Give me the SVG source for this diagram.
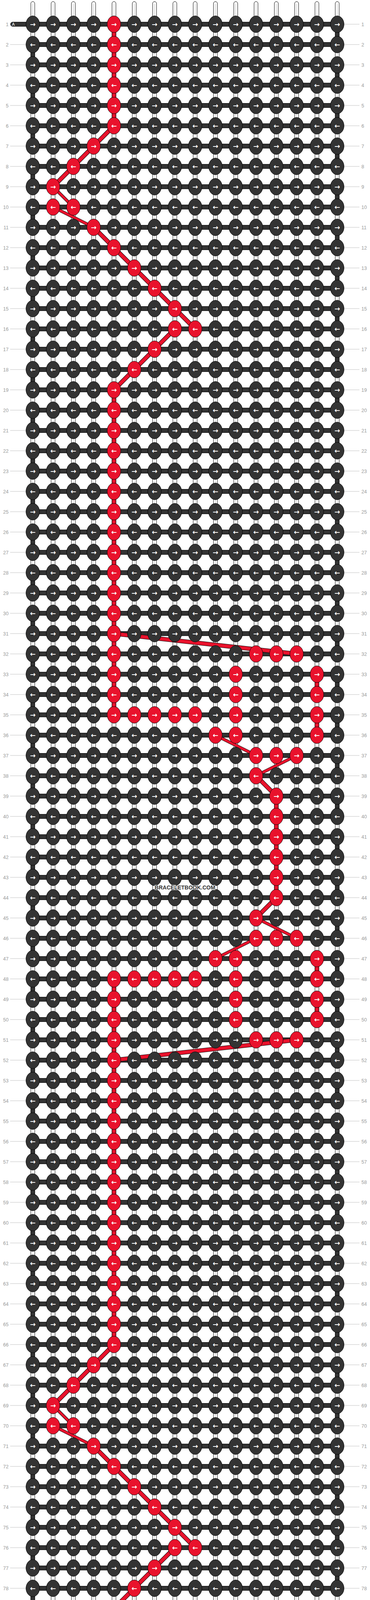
<svg xmlns="http://www.w3.org/2000/svg" width="948" height="4492" viewBox="0 0 948 4492">
<style>
.w{fill:#fff;stroke:#000;stroke-width:1}
.wl{stroke:#c4c4c4;stroke-width:1.2;fill:none}
.b{fill:#333;stroke:#000;stroke-width:1}
.rv{fill:#e9122c;stroke:#000;stroke-width:1}
.lo{fill:none;stroke:#000;stroke-width:11;stroke-linejoin:round}
.li{fill:none;stroke:#e9122c;stroke-width:9;stroke-linejoin:round}
.to{fill:none;stroke:#000;stroke-width:8;stroke-linejoin:round}
.ti{fill:none;stroke:#e9122c;stroke-width:6;stroke-linejoin:round}
.n text{fill:#fff;font:bold 17px "DejaVu Sans",sans-serif;text-anchor:middle}
.n .ll{fill:#9a9a9a;font:12.5px "Liberation Sans",Arial,sans-serif;text-anchor:end}
.n .rl{fill:#9a9a9a;font:12.5px "Liberation Sans",Arial,sans-serif;text-anchor:start}
.ld{stroke:#c0c0c0;stroke-width:1;fill:none}
.at{fill:#fff;font:11px "Liberation Sans",Arial,sans-serif}
.wm{font:bold 14px "Liberation Sans",Arial,sans-serif;fill:#333;stroke:#fff;stroke-width:2.5;paint-order:stroke;text-anchor:middle}
</style>
<defs>
<ellipse id="K" cy="-5.5" rx="17.4" ry="21.3" fill="#333" stroke="#000" stroke-width="1"/>
<ellipse id="R" cy="-5.5" rx="17.4" ry="21.3" fill="#e9122c" stroke="#000" stroke-width="1"/>
<path id="th" d="M292 322L240 374L188 426L136 478M240 582L292 634L344 686L396 738L448 790L500 842M448 842L396 894L344 946L292 998M292 3442L240 3494L188 3546L136 3598M240 3702L292 3754L344 3806L396 3858L448 3910L500 3962M448 3962L396 4014L344 4066L292 4118M292 1622L760 1674M656 1986L708 2038M708 2298L656 2350M760 2662L292 2714"/>
<path id="tn" d="M136 478L188 530M136 530L240 582M136 3598L188 3650M136 3650L240 3702M552 1882L656 1934M760 1934L656 1986M656 2350L760 2402M656 2402L552 2454"/>
</defs>
<rect width="948" height="4492" fill="#fff"/>
<g id="connectors">
<g id="warps" class="w">
<rect x="79" y="4" width="10" height="4482" rx="5"/><rect x="131" y="4" width="10" height="4482" rx="5"/><rect x="183" y="4" width="10" height="4482" rx="5"/><rect x="235" y="4" width="10" height="4482" rx="5"/><rect x="287" y="4" width="10" height="4482" rx="5"/><rect x="339" y="4" width="10" height="4482" rx="5"/><rect x="391" y="4" width="10" height="4482" rx="5"/><rect x="443" y="4" width="10" height="4482" rx="5"/><rect x="495" y="4" width="10" height="4482" rx="5"/><rect x="547" y="4" width="10" height="4482" rx="5"/><rect x="599" y="4" width="10" height="4482" rx="5"/><rect x="651" y="4" width="10" height="4482" rx="5"/><rect x="703" y="4" width="10" height="4482" rx="5"/><rect x="755" y="4" width="10" height="4482" rx="5"/><rect x="807" y="4" width="10" height="4482" rx="5"/><rect x="859" y="4" width="10" height="4482" rx="5"/>
</g>
<path class="wl" d="M84 10V4480M136 10V4480M188 10V4480M240 10V4480M292 10V4480M344 10V4480M396 10V4480M448 10V4480M500 10V4480M552 10V4480M604 10V4480M656 10V4480M708 10V4480M760 10V4480M812 10V4480M864 10V4480"/>
<path id="rowbars" class="b" d="M84 56.5h780v11h-780zm0 52h780v11h-780zm0 52h780v11h-780zm0 52h780v11h-780zm0 52h780v11h-780zm0 52h780v11h-780zm0 52h780v11h-780zm0 52h780v11h-780zm0 52h780v11h-780zm0 52h780v11h-780zm0 52h780v11h-780zm0 52h780v11h-780zm0 52h780v11h-780zm0 52h780v11h-780zm0 52h780v11h-780zm0 52h780v11h-780zm0 52h780v11h-780zm0 52h780v11h-780zm0 52h780v11h-780zm0 52h780v11h-780zm0 52h780v11h-780zm0 52h780v11h-780zm0 52h780v11h-780zm0 52h780v11h-780zm0 52h780v11h-780zm0 52h780v11h-780zm0 52h780v11h-780zm0 52h780v11h-780zm0 52h780v11h-780zm0 52h780v11h-780zm0 52h780v11h-780zm0 52h780v11h-780zm0 52h780v11h-780zm0 52h780v11h-780zm0 52h780v11h-780zm0 52h780v11h-780zm0 52h780v11h-780zm0 52h780v11h-780zm0 52h780v11h-780zm0 52h780v11h-780zm0 52h780v11h-780zm0 52h780v11h-780zm0 52h780v11h-780zm0 52h780v11h-780zm0 52h780v11h-780zm0 52h780v11h-780zm0 52h780v11h-780zm0 52h780v11h-780zm0 52h780v11h-780zm0 52h780v11h-780zm0 52h780v11h-780zm0 52h780v11h-780zm0 52h780v11h-780zm0 52h780v11h-780zm0 52h780v11h-780zm0 52h780v11h-780zm0 52h780v11h-780zm0 52h780v11h-780zm0 52h780v11h-780zm0 52h780v11h-780zm0 52h780v11h-780zm0 52h780v11h-780zm0 52h780v11h-780zm0 52h780v11h-780zm0 52h780v11h-780zm0 52h780v11h-780zm0 52h780v11h-780zm0 52h780v11h-780zm0 52h780v11h-780zm0 52h780v11h-780zm0 52h780v11h-780zm0 52h780v11h-780zm0 52h780v11h-780zm0 52h780v11h-780zm0 52h780v11h-780zm0 52h780v11h-780zm0 52h780v11h-780zm0 52h780v11h-780zm0 52h780v11h-780zm0 52h780v11h-780zm0 52h780v11h-780zm0 52h780v11h-780zm0 52h780v11h-780zm0 52h780v11h-780zm0 52h780v11h-780z"/>
<rect id="startA" class="b" x="27" y="56.5" width="62" height="11" rx="5.5"/>
<rect id="endA" class="b" x="859" y="4424.5" width="62" height="11" rx="5.5"/>
<path id="turns" class="b" d="M859 81h10v14h-10zm0 104h10v14h-10zm0 104h10v14h-10zm0 104h10v14h-10zm0 104h10v14h-10zm0 104h10v14h-10zm0 104h10v14h-10zm0 104h10v14h-10zm0 104h10v14h-10zm0 104h10v14h-10zm0 104h10v14h-10zm0 104h10v14h-10zm0 104h10v14h-10zm0 104h10v14h-10zm0 104h10v14h-10zm0 104h10v14h-10zm0 104h10v14h-10zm0 104h10v14h-10zm0 104h10v14h-10zm0 104h10v14h-10zm0 104h10v14h-10zm0 104h10v14h-10zm0 104h10v14h-10zm0 104h10v14h-10zm0 104h10v14h-10zm0 104h10v14h-10zm0 104h10v14h-10zm0 104h10v14h-10zm0 104h10v14h-10zm0 104h10v14h-10zm0 104h10v14h-10zm0 104h10v14h-10zm0 104h10v14h-10zm0 104h10v14h-10zm0 104h10v14h-10zm0 104h10v14h-10zm0 104h10v14h-10zm0 104h10v14h-10zm0 104h10v14h-10zm0 104h10v14h-10zm0 104h10v14h-10zm0 104h10v14h-10zM79 133h10v14h-10zm0 104h10v14h-10zm0 104h10v14h-10zm0 104h10v14h-10zm0 104h10v14h-10zm0 104h10v14h-10zm0 104h10v14h-10zm0 104h10v14h-10zm0 104h10v14h-10zm0 104h10v14h-10zm0 104h10v14h-10zm0 104h10v14h-10zm0 104h10v14h-10zm0 104h10v14h-10zm0 104h10v14h-10zm0 104h10v14h-10zm0 104h10v14h-10zm0 104h10v14h-10zm0 104h10v14h-10zm0 104h10v14h-10zm0 104h10v14h-10zm0 104h10v14h-10zm0 104h10v14h-10zm0 104h10v14h-10zm0 104h10v14h-10zm0 104h10v14h-10zm0 104h10v14h-10zm0 104h10v14h-10zm0 104h10v14h-10zm0 104h10v14h-10zm0 104h10v14h-10zm0 104h10v14h-10zm0 104h10v14h-10zm0 104h10v14h-10zm0 104h10v14h-10zm0 104h10v14h-10zm0 104h10v14h-10zm0 104h10v14h-10zm0 104h10v14h-10zm0 104h10v14h-10zm0 104h10v14h-10z"/>
<path id="redwarp" class="rv" d="M287 81h10v14h-10zm0 52h10v14h-10zm0 52h10v14h-10zm0 52h10v14h-10zm0 52h10v14h-10zM287 1017h10v14h-10zm0 52h10v14h-10zm0 52h10v14h-10zm0 52h10v14h-10zm0 52h10v14h-10zm0 52h10v14h-10zm0 52h10v14h-10zm0 52h10v14h-10zm0 52h10v14h-10zm0 52h10v14h-10zm0 52h10v14h-10zm0 52h10v14h-10zm0 52h10v14h-10zm0 52h10v14h-10zm0 52h10v14h-10zm0 52h10v14h-10zM287 2525h10v14h-10zm0 52h10v14h-10zm0 52h10v14h-10zm0 52h10v14h-10zm0 52h10v14h-10zm0 52h10v14h-10zm0 52h10v14h-10zm0 52h10v14h-10zm0 52h10v14h-10zm0 52h10v14h-10zm0 52h10v14h-10zm0 52h10v14h-10zm0 52h10v14h-10zm0 52h10v14h-10zm0 52h10v14h-10zm0 52h10v14h-10zm0 52h10v14h-10zm0 52h10v14h-10zM287 4137h10v14h-10zm0 52h10v14h-10zm0 52h10v14h-10zm0 52h10v14h-10zm0 52h10v14h-10zm0 52h10v14h-10zM807 1745h10v14h-10zm0 104h10v14h-10zM807 2473h10v14h-10zm0 104h10v14h-10zM703 2057h10v14h-10zm0 52h10v14h-10zm0 52h10v14h-10zm0 52h10v14h-10zm0 52h10v14h-10z"/>
<use href="#th" class="lo"/><use href="#th" class="li"/>
<use href="#tn" class="to"/><use href="#tn" class="ti"/>
</g>
<text class="at" x="30.5" y="66">A</text>
<text class="at" x="910.5" y="4434">A</text>
<g id="knots">
<g id="row1" class="n" transform="translate(0 67.5)"><path class="ld" d="M882-5.5h39"/><text class="ll" x="22" y="-1">1</text><text class="rl" x="926" y="-1">1</text><g id="k1-1"><use href="#K" x="84"/><text x="84">→</text></g><g id="k1-2"><use href="#K" x="136"/><text x="136">→</text></g><g id="k1-3"><use href="#K" x="188"/><text x="188">→</text></g><g id="k1-4"><use href="#K" x="240"/><text x="240">→</text></g><g id="k1-5"><use href="#R" x="292"/><text x="292">→</text></g><g id="k1-6"><use href="#K" x="344"/><text x="344">→</text></g><g id="k1-7"><use href="#K" x="396"/><text x="396">→</text></g><g id="k1-8"><use href="#K" x="448"/><text x="448">→</text></g><g id="k1-9"><use href="#K" x="500"/><text x="500">→</text></g><g id="k1-10"><use href="#K" x="552"/><text x="552">→</text></g><g id="k1-11"><use href="#K" x="604"/><text x="604">→</text></g><g id="k1-12"><use href="#K" x="656"/><text x="656">→</text></g><g id="k1-13"><use href="#K" x="708"/><text x="708">→</text></g><g id="k1-14"><use href="#K" x="760"/><text x="760">→</text></g><g id="k1-15"><use href="#K" x="812"/><text x="812">→</text></g><g id="k1-16"><use href="#K" x="864"/><text x="864">→</text></g></g>
<g id="row2" class="n" transform="translate(0 119.5)"><path class="ld" d="M26-5.5h40M882-5.5h39"/><text class="ll" x="22" y="-1">2</text><text class="rl" x="926" y="-1">2</text><g id="k2-1"><use href="#K" x="84"/><text x="84">←</text></g><g id="k2-2"><use href="#K" x="136"/><text x="136">←</text></g><g id="k2-3"><use href="#K" x="188"/><text x="188">←</text></g><g id="k2-4"><use href="#K" x="240"/><text x="240">←</text></g><g id="k2-5"><use href="#R" x="292"/><text x="292">←</text></g><g id="k2-6"><use href="#K" x="344"/><text x="344">←</text></g><g id="k2-7"><use href="#K" x="396"/><text x="396">←</text></g><g id="k2-8"><use href="#K" x="448"/><text x="448">←</text></g><g id="k2-9"><use href="#K" x="500"/><text x="500">←</text></g><g id="k2-10"><use href="#K" x="552"/><text x="552">←</text></g><g id="k2-11"><use href="#K" x="604"/><text x="604">←</text></g><g id="k2-12"><use href="#K" x="656"/><text x="656">←</text></g><g id="k2-13"><use href="#K" x="708"/><text x="708">←</text></g><g id="k2-14"><use href="#K" x="760"/><text x="760">←</text></g><g id="k2-15"><use href="#K" x="812"/><text x="812">←</text></g><g id="k2-16"><use href="#K" x="864"/><text x="864">←</text></g></g>
<g id="row3" class="n" transform="translate(0 171.5)"><path class="ld" d="M26-5.5h40M882-5.5h39"/><text class="ll" x="22" y="-1">3</text><text class="rl" x="926" y="-1">3</text><g id="k3-1"><use href="#K" x="84"/><text x="84">→</text></g><g id="k3-2"><use href="#K" x="136"/><text x="136">→</text></g><g id="k3-3"><use href="#K" x="188"/><text x="188">→</text></g><g id="k3-4"><use href="#K" x="240"/><text x="240">→</text></g><g id="k3-5"><use href="#R" x="292"/><text x="292">→</text></g><g id="k3-6"><use href="#K" x="344"/><text x="344">→</text></g><g id="k3-7"><use href="#K" x="396"/><text x="396">→</text></g><g id="k3-8"><use href="#K" x="448"/><text x="448">→</text></g><g id="k3-9"><use href="#K" x="500"/><text x="500">→</text></g><g id="k3-10"><use href="#K" x="552"/><text x="552">→</text></g><g id="k3-11"><use href="#K" x="604"/><text x="604">→</text></g><g id="k3-12"><use href="#K" x="656"/><text x="656">→</text></g><g id="k3-13"><use href="#K" x="708"/><text x="708">→</text></g><g id="k3-14"><use href="#K" x="760"/><text x="760">→</text></g><g id="k3-15"><use href="#K" x="812"/><text x="812">→</text></g><g id="k3-16"><use href="#K" x="864"/><text x="864">→</text></g></g>
<g id="row4" class="n" transform="translate(0 223.5)"><path class="ld" d="M26-5.5h40M882-5.5h39"/><text class="ll" x="22" y="-1">4</text><text class="rl" x="926" y="-1">4</text><g id="k4-1"><use href="#K" x="84"/><text x="84">←</text></g><g id="k4-2"><use href="#K" x="136"/><text x="136">←</text></g><g id="k4-3"><use href="#K" x="188"/><text x="188">←</text></g><g id="k4-4"><use href="#K" x="240"/><text x="240">←</text></g><g id="k4-5"><use href="#R" x="292"/><text x="292">←</text></g><g id="k4-6"><use href="#K" x="344"/><text x="344">←</text></g><g id="k4-7"><use href="#K" x="396"/><text x="396">←</text></g><g id="k4-8"><use href="#K" x="448"/><text x="448">←</text></g><g id="k4-9"><use href="#K" x="500"/><text x="500">←</text></g><g id="k4-10"><use href="#K" x="552"/><text x="552">←</text></g><g id="k4-11"><use href="#K" x="604"/><text x="604">←</text></g><g id="k4-12"><use href="#K" x="656"/><text x="656">←</text></g><g id="k4-13"><use href="#K" x="708"/><text x="708">←</text></g><g id="k4-14"><use href="#K" x="760"/><text x="760">←</text></g><g id="k4-15"><use href="#K" x="812"/><text x="812">←</text></g><g id="k4-16"><use href="#K" x="864"/><text x="864">←</text></g></g>
<g id="row5" class="n" transform="translate(0 275.5)"><path class="ld" d="M26-5.5h40M882-5.5h39"/><text class="ll" x="22" y="-1">5</text><text class="rl" x="926" y="-1">5</text><g id="k5-1"><use href="#K" x="84"/><text x="84">→</text></g><g id="k5-2"><use href="#K" x="136"/><text x="136">→</text></g><g id="k5-3"><use href="#K" x="188"/><text x="188">→</text></g><g id="k5-4"><use href="#K" x="240"/><text x="240">→</text></g><g id="k5-5"><use href="#R" x="292"/><text x="292">→</text></g><g id="k5-6"><use href="#K" x="344"/><text x="344">→</text></g><g id="k5-7"><use href="#K" x="396"/><text x="396">→</text></g><g id="k5-8"><use href="#K" x="448"/><text x="448">→</text></g><g id="k5-9"><use href="#K" x="500"/><text x="500">→</text></g><g id="k5-10"><use href="#K" x="552"/><text x="552">→</text></g><g id="k5-11"><use href="#K" x="604"/><text x="604">→</text></g><g id="k5-12"><use href="#K" x="656"/><text x="656">→</text></g><g id="k5-13"><use href="#K" x="708"/><text x="708">→</text></g><g id="k5-14"><use href="#K" x="760"/><text x="760">→</text></g><g id="k5-15"><use href="#K" x="812"/><text x="812">→</text></g><g id="k5-16"><use href="#K" x="864"/><text x="864">→</text></g></g>
<g id="row6" class="n" transform="translate(0 327.5)"><path class="ld" d="M26-5.5h40M882-5.5h39"/><text class="ll" x="22" y="-1">6</text><text class="rl" x="926" y="-1">6</text><g id="k6-1"><use href="#K" x="84"/><text x="84">←</text></g><g id="k6-2"><use href="#K" x="136"/><text x="136">←</text></g><g id="k6-3"><use href="#K" x="188"/><text x="188">←</text></g><g id="k6-4"><use href="#K" x="240"/><text x="240">←</text></g><g id="k6-5"><use href="#R" x="292"/><text x="292">←</text></g><g id="k6-6"><use href="#K" x="344"/><text x="344">←</text></g><g id="k6-7"><use href="#K" x="396"/><text x="396">←</text></g><g id="k6-8"><use href="#K" x="448"/><text x="448">←</text></g><g id="k6-9"><use href="#K" x="500"/><text x="500">←</text></g><g id="k6-10"><use href="#K" x="552"/><text x="552">←</text></g><g id="k6-11"><use href="#K" x="604"/><text x="604">←</text></g><g id="k6-12"><use href="#K" x="656"/><text x="656">←</text></g><g id="k6-13"><use href="#K" x="708"/><text x="708">←</text></g><g id="k6-14"><use href="#K" x="760"/><text x="760">←</text></g><g id="k6-15"><use href="#K" x="812"/><text x="812">←</text></g><g id="k6-16"><use href="#K" x="864"/><text x="864">←</text></g></g>
<g id="row7" class="n" transform="translate(0 379.5)"><path class="ld" d="M26-5.5h40M882-5.5h39"/><text class="ll" x="22" y="-1">7</text><text class="rl" x="926" y="-1">7</text><g id="k7-1"><use href="#K" x="84"/><text x="84">→</text></g><g id="k7-2"><use href="#K" x="136"/><text x="136">→</text></g><g id="k7-3"><use href="#K" x="188"/><text x="188">→</text></g><g id="k7-4"><use href="#R" x="240"/><text x="240">→</text></g><g id="k7-5"><use href="#K" x="292"/><text x="292">→</text></g><g id="k7-6"><use href="#K" x="344"/><text x="344">→</text></g><g id="k7-7"><use href="#K" x="396"/><text x="396">→</text></g><g id="k7-8"><use href="#K" x="448"/><text x="448">→</text></g><g id="k7-9"><use href="#K" x="500"/><text x="500">→</text></g><g id="k7-10"><use href="#K" x="552"/><text x="552">→</text></g><g id="k7-11"><use href="#K" x="604"/><text x="604">→</text></g><g id="k7-12"><use href="#K" x="656"/><text x="656">→</text></g><g id="k7-13"><use href="#K" x="708"/><text x="708">→</text></g><g id="k7-14"><use href="#K" x="760"/><text x="760">→</text></g><g id="k7-15"><use href="#K" x="812"/><text x="812">→</text></g><g id="k7-16"><use href="#K" x="864"/><text x="864">→</text></g></g>
<g id="row8" class="n" transform="translate(0 431.5)"><path class="ld" d="M26-5.5h40M882-5.5h39"/><text class="ll" x="22" y="-1">8</text><text class="rl" x="926" y="-1">8</text><g id="k8-1"><use href="#K" x="84"/><text x="84">←</text></g><g id="k8-2"><use href="#K" x="136"/><text x="136">←</text></g><g id="k8-3"><use href="#R" x="188"/><text x="188">←</text></g><g id="k8-4"><use href="#K" x="240"/><text x="240">←</text></g><g id="k8-5"><use href="#K" x="292"/><text x="292">←</text></g><g id="k8-6"><use href="#K" x="344"/><text x="344">←</text></g><g id="k8-7"><use href="#K" x="396"/><text x="396">←</text></g><g id="k8-8"><use href="#K" x="448"/><text x="448">←</text></g><g id="k8-9"><use href="#K" x="500"/><text x="500">←</text></g><g id="k8-10"><use href="#K" x="552"/><text x="552">←</text></g><g id="k8-11"><use href="#K" x="604"/><text x="604">←</text></g><g id="k8-12"><use href="#K" x="656"/><text x="656">←</text></g><g id="k8-13"><use href="#K" x="708"/><text x="708">←</text></g><g id="k8-14"><use href="#K" x="760"/><text x="760">←</text></g><g id="k8-15"><use href="#K" x="812"/><text x="812">←</text></g><g id="k8-16"><use href="#K" x="864"/><text x="864">←</text></g></g>
<g id="row9" class="n" transform="translate(0 483.5)"><path class="ld" d="M26-5.5h40M882-5.5h39"/><text class="ll" x="22" y="-1">9</text><text class="rl" x="926" y="-1">9</text><g id="k9-1"><use href="#K" x="84"/><text x="84">→</text></g><g id="k9-2"><use href="#R" x="136"/><text x="136">→</text></g><g id="k9-3"><use href="#K" x="188"/><text x="188">→</text></g><g id="k9-4"><use href="#K" x="240"/><text x="240">→</text></g><g id="k9-5"><use href="#K" x="292"/><text x="292">→</text></g><g id="k9-6"><use href="#K" x="344"/><text x="344">→</text></g><g id="k9-7"><use href="#K" x="396"/><text x="396">→</text></g><g id="k9-8"><use href="#K" x="448"/><text x="448">→</text></g><g id="k9-9"><use href="#K" x="500"/><text x="500">→</text></g><g id="k9-10"><use href="#K" x="552"/><text x="552">→</text></g><g id="k9-11"><use href="#K" x="604"/><text x="604">→</text></g><g id="k9-12"><use href="#K" x="656"/><text x="656">→</text></g><g id="k9-13"><use href="#K" x="708"/><text x="708">→</text></g><g id="k9-14"><use href="#K" x="760"/><text x="760">→</text></g><g id="k9-15"><use href="#K" x="812"/><text x="812">→</text></g><g id="k9-16"><use href="#K" x="864"/><text x="864">→</text></g></g>
<g id="row10" class="n" transform="translate(0 535.5)"><path class="ld" d="M26-5.5h40M882-5.5h39"/><text class="ll" x="22" y="-1">10</text><text class="rl" x="926" y="-1">10</text><g id="k10-1"><use href="#K" x="84"/><text x="84">←</text></g><g id="k10-2"><use href="#R" x="136"/><text x="136">←</text></g><g id="k10-3"><use href="#R" x="188"/><text x="188">←</text></g><g id="k10-4"><use href="#K" x="240"/><text x="240">←</text></g><g id="k10-5"><use href="#K" x="292"/><text x="292">←</text></g><g id="k10-6"><use href="#K" x="344"/><text x="344">←</text></g><g id="k10-7"><use href="#K" x="396"/><text x="396">←</text></g><g id="k10-8"><use href="#K" x="448"/><text x="448">←</text></g><g id="k10-9"><use href="#K" x="500"/><text x="500">←</text></g><g id="k10-10"><use href="#K" x="552"/><text x="552">←</text></g><g id="k10-11"><use href="#K" x="604"/><text x="604">←</text></g><g id="k10-12"><use href="#K" x="656"/><text x="656">←</text></g><g id="k10-13"><use href="#K" x="708"/><text x="708">←</text></g><g id="k10-14"><use href="#K" x="760"/><text x="760">←</text></g><g id="k10-15"><use href="#K" x="812"/><text x="812">←</text></g><g id="k10-16"><use href="#K" x="864"/><text x="864">←</text></g></g>
<g id="row11" class="n" transform="translate(0 587.5)"><path class="ld" d="M26-5.5h40M882-5.5h39"/><text class="ll" x="22" y="-1">11</text><text class="rl" x="926" y="-1">11</text><g id="k11-1"><use href="#K" x="84"/><text x="84">→</text></g><g id="k11-2"><use href="#K" x="136"/><text x="136">→</text></g><g id="k11-3"><use href="#K" x="188"/><text x="188">→</text></g><g id="k11-4"><use href="#R" x="240"/><text x="240">→</text></g><g id="k11-5"><use href="#K" x="292"/><text x="292">→</text></g><g id="k11-6"><use href="#K" x="344"/><text x="344">→</text></g><g id="k11-7"><use href="#K" x="396"/><text x="396">→</text></g><g id="k11-8"><use href="#K" x="448"/><text x="448">→</text></g><g id="k11-9"><use href="#K" x="500"/><text x="500">→</text></g><g id="k11-10"><use href="#K" x="552"/><text x="552">→</text></g><g id="k11-11"><use href="#K" x="604"/><text x="604">→</text></g><g id="k11-12"><use href="#K" x="656"/><text x="656">→</text></g><g id="k11-13"><use href="#K" x="708"/><text x="708">→</text></g><g id="k11-14"><use href="#K" x="760"/><text x="760">→</text></g><g id="k11-15"><use href="#K" x="812"/><text x="812">→</text></g><g id="k11-16"><use href="#K" x="864"/><text x="864">→</text></g></g>
<g id="row12" class="n" transform="translate(0 639.5)"><path class="ld" d="M26-5.5h40M882-5.5h39"/><text class="ll" x="22" y="-1">12</text><text class="rl" x="926" y="-1">12</text><g id="k12-1"><use href="#K" x="84"/><text x="84">←</text></g><g id="k12-2"><use href="#K" x="136"/><text x="136">←</text></g><g id="k12-3"><use href="#K" x="188"/><text x="188">←</text></g><g id="k12-4"><use href="#K" x="240"/><text x="240">←</text></g><g id="k12-5"><use href="#R" x="292"/><text x="292">←</text></g><g id="k12-6"><use href="#K" x="344"/><text x="344">←</text></g><g id="k12-7"><use href="#K" x="396"/><text x="396">←</text></g><g id="k12-8"><use href="#K" x="448"/><text x="448">←</text></g><g id="k12-9"><use href="#K" x="500"/><text x="500">←</text></g><g id="k12-10"><use href="#K" x="552"/><text x="552">←</text></g><g id="k12-11"><use href="#K" x="604"/><text x="604">←</text></g><g id="k12-12"><use href="#K" x="656"/><text x="656">←</text></g><g id="k12-13"><use href="#K" x="708"/><text x="708">←</text></g><g id="k12-14"><use href="#K" x="760"/><text x="760">←</text></g><g id="k12-15"><use href="#K" x="812"/><text x="812">←</text></g><g id="k12-16"><use href="#K" x="864"/><text x="864">←</text></g></g>
<g id="row13" class="n" transform="translate(0 691.5)"><path class="ld" d="M26-5.5h40M882-5.5h39"/><text class="ll" x="22" y="-1">13</text><text class="rl" x="926" y="-1">13</text><g id="k13-1"><use href="#K" x="84"/><text x="84">→</text></g><g id="k13-2"><use href="#K" x="136"/><text x="136">→</text></g><g id="k13-3"><use href="#K" x="188"/><text x="188">→</text></g><g id="k13-4"><use href="#K" x="240"/><text x="240">→</text></g><g id="k13-5"><use href="#K" x="292"/><text x="292">→</text></g><g id="k13-6"><use href="#R" x="344"/><text x="344">→</text></g><g id="k13-7"><use href="#K" x="396"/><text x="396">→</text></g><g id="k13-8"><use href="#K" x="448"/><text x="448">→</text></g><g id="k13-9"><use href="#K" x="500"/><text x="500">→</text></g><g id="k13-10"><use href="#K" x="552"/><text x="552">→</text></g><g id="k13-11"><use href="#K" x="604"/><text x="604">→</text></g><g id="k13-12"><use href="#K" x="656"/><text x="656">→</text></g><g id="k13-13"><use href="#K" x="708"/><text x="708">→</text></g><g id="k13-14"><use href="#K" x="760"/><text x="760">→</text></g><g id="k13-15"><use href="#K" x="812"/><text x="812">→</text></g><g id="k13-16"><use href="#K" x="864"/><text x="864">→</text></g></g>
<g id="row14" class="n" transform="translate(0 743.5)"><path class="ld" d="M26-5.5h40M882-5.5h39"/><text class="ll" x="22" y="-1">14</text><text class="rl" x="926" y="-1">14</text><g id="k14-1"><use href="#K" x="84"/><text x="84">←</text></g><g id="k14-2"><use href="#K" x="136"/><text x="136">←</text></g><g id="k14-3"><use href="#K" x="188"/><text x="188">←</text></g><g id="k14-4"><use href="#K" x="240"/><text x="240">←</text></g><g id="k14-5"><use href="#K" x="292"/><text x="292">←</text></g><g id="k14-6"><use href="#K" x="344"/><text x="344">←</text></g><g id="k14-7"><use href="#R" x="396"/><text x="396">←</text></g><g id="k14-8"><use href="#K" x="448"/><text x="448">←</text></g><g id="k14-9"><use href="#K" x="500"/><text x="500">←</text></g><g id="k14-10"><use href="#K" x="552"/><text x="552">←</text></g><g id="k14-11"><use href="#K" x="604"/><text x="604">←</text></g><g id="k14-12"><use href="#K" x="656"/><text x="656">←</text></g><g id="k14-13"><use href="#K" x="708"/><text x="708">←</text></g><g id="k14-14"><use href="#K" x="760"/><text x="760">←</text></g><g id="k14-15"><use href="#K" x="812"/><text x="812">←</text></g><g id="k14-16"><use href="#K" x="864"/><text x="864">←</text></g></g>
<g id="row15" class="n" transform="translate(0 795.5)"><path class="ld" d="M26-5.5h40M882-5.5h39"/><text class="ll" x="22" y="-1">15</text><text class="rl" x="926" y="-1">15</text><g id="k15-1"><use href="#K" x="84"/><text x="84">→</text></g><g id="k15-2"><use href="#K" x="136"/><text x="136">→</text></g><g id="k15-3"><use href="#K" x="188"/><text x="188">→</text></g><g id="k15-4"><use href="#K" x="240"/><text x="240">→</text></g><g id="k15-5"><use href="#K" x="292"/><text x="292">→</text></g><g id="k15-6"><use href="#K" x="344"/><text x="344">→</text></g><g id="k15-7"><use href="#K" x="396"/><text x="396">→</text></g><g id="k15-8"><use href="#R" x="448"/><text x="448">→</text></g><g id="k15-9"><use href="#K" x="500"/><text x="500">→</text></g><g id="k15-10"><use href="#K" x="552"/><text x="552">→</text></g><g id="k15-11"><use href="#K" x="604"/><text x="604">→</text></g><g id="k15-12"><use href="#K" x="656"/><text x="656">→</text></g><g id="k15-13"><use href="#K" x="708"/><text x="708">→</text></g><g id="k15-14"><use href="#K" x="760"/><text x="760">→</text></g><g id="k15-15"><use href="#K" x="812"/><text x="812">→</text></g><g id="k15-16"><use href="#K" x="864"/><text x="864">→</text></g></g>
<g id="row16" class="n" transform="translate(0 847.5)"><path class="ld" d="M26-5.5h40M882-5.5h39"/><text class="ll" x="22" y="-1">16</text><text class="rl" x="926" y="-1">16</text><g id="k16-1"><use href="#K" x="84"/><text x="84">←</text></g><g id="k16-2"><use href="#K" x="136"/><text x="136">←</text></g><g id="k16-3"><use href="#K" x="188"/><text x="188">←</text></g><g id="k16-4"><use href="#K" x="240"/><text x="240">←</text></g><g id="k16-5"><use href="#K" x="292"/><text x="292">←</text></g><g id="k16-6"><use href="#K" x="344"/><text x="344">←</text></g><g id="k16-7"><use href="#K" x="396"/><text x="396">←</text></g><g id="k16-8"><use href="#R" x="448"/><text x="448">←</text></g><g id="k16-9"><use href="#R" x="500"/><text x="500">←</text></g><g id="k16-10"><use href="#K" x="552"/><text x="552">←</text></g><g id="k16-11"><use href="#K" x="604"/><text x="604">←</text></g><g id="k16-12"><use href="#K" x="656"/><text x="656">←</text></g><g id="k16-13"><use href="#K" x="708"/><text x="708">←</text></g><g id="k16-14"><use href="#K" x="760"/><text x="760">←</text></g><g id="k16-15"><use href="#K" x="812"/><text x="812">←</text></g><g id="k16-16"><use href="#K" x="864"/><text x="864">←</text></g></g>
<g id="row17" class="n" transform="translate(0 899.5)"><path class="ld" d="M26-5.5h40M882-5.5h39"/><text class="ll" x="22" y="-1">17</text><text class="rl" x="926" y="-1">17</text><g id="k17-1"><use href="#K" x="84"/><text x="84">→</text></g><g id="k17-2"><use href="#K" x="136"/><text x="136">→</text></g><g id="k17-3"><use href="#K" x="188"/><text x="188">→</text></g><g id="k17-4"><use href="#K" x="240"/><text x="240">→</text></g><g id="k17-5"><use href="#K" x="292"/><text x="292">→</text></g><g id="k17-6"><use href="#K" x="344"/><text x="344">→</text></g><g id="k17-7"><use href="#R" x="396"/><text x="396">→</text></g><g id="k17-8"><use href="#K" x="448"/><text x="448">→</text></g><g id="k17-9"><use href="#K" x="500"/><text x="500">→</text></g><g id="k17-10"><use href="#K" x="552"/><text x="552">→</text></g><g id="k17-11"><use href="#K" x="604"/><text x="604">→</text></g><g id="k17-12"><use href="#K" x="656"/><text x="656">→</text></g><g id="k17-13"><use href="#K" x="708"/><text x="708">→</text></g><g id="k17-14"><use href="#K" x="760"/><text x="760">→</text></g><g id="k17-15"><use href="#K" x="812"/><text x="812">→</text></g><g id="k17-16"><use href="#K" x="864"/><text x="864">→</text></g></g>
<g id="row18" class="n" transform="translate(0 951.5)"><path class="ld" d="M26-5.5h40M882-5.5h39"/><text class="ll" x="22" y="-1">18</text><text class="rl" x="926" y="-1">18</text><g id="k18-1"><use href="#K" x="84"/><text x="84">←</text></g><g id="k18-2"><use href="#K" x="136"/><text x="136">←</text></g><g id="k18-3"><use href="#K" x="188"/><text x="188">←</text></g><g id="k18-4"><use href="#K" x="240"/><text x="240">←</text></g><g id="k18-5"><use href="#K" x="292"/><text x="292">←</text></g><g id="k18-6"><use href="#R" x="344"/><text x="344">←</text></g><g id="k18-7"><use href="#K" x="396"/><text x="396">←</text></g><g id="k18-8"><use href="#K" x="448"/><text x="448">←</text></g><g id="k18-9"><use href="#K" x="500"/><text x="500">←</text></g><g id="k18-10"><use href="#K" x="552"/><text x="552">←</text></g><g id="k18-11"><use href="#K" x="604"/><text x="604">←</text></g><g id="k18-12"><use href="#K" x="656"/><text x="656">←</text></g><g id="k18-13"><use href="#K" x="708"/><text x="708">←</text></g><g id="k18-14"><use href="#K" x="760"/><text x="760">←</text></g><g id="k18-15"><use href="#K" x="812"/><text x="812">←</text></g><g id="k18-16"><use href="#K" x="864"/><text x="864">←</text></g></g>
<g id="row19" class="n" transform="translate(0 1003.5)"><path class="ld" d="M26-5.5h40M882-5.5h39"/><text class="ll" x="22" y="-1">19</text><text class="rl" x="926" y="-1">19</text><g id="k19-1"><use href="#K" x="84"/><text x="84">→</text></g><g id="k19-2"><use href="#K" x="136"/><text x="136">→</text></g><g id="k19-3"><use href="#K" x="188"/><text x="188">→</text></g><g id="k19-4"><use href="#K" x="240"/><text x="240">→</text></g><g id="k19-5"><use href="#R" x="292"/><text x="292">→</text></g><g id="k19-6"><use href="#K" x="344"/><text x="344">→</text></g><g id="k19-7"><use href="#K" x="396"/><text x="396">→</text></g><g id="k19-8"><use href="#K" x="448"/><text x="448">→</text></g><g id="k19-9"><use href="#K" x="500"/><text x="500">→</text></g><g id="k19-10"><use href="#K" x="552"/><text x="552">→</text></g><g id="k19-11"><use href="#K" x="604"/><text x="604">→</text></g><g id="k19-12"><use href="#K" x="656"/><text x="656">→</text></g><g id="k19-13"><use href="#K" x="708"/><text x="708">→</text></g><g id="k19-14"><use href="#K" x="760"/><text x="760">→</text></g><g id="k19-15"><use href="#K" x="812"/><text x="812">→</text></g><g id="k19-16"><use href="#K" x="864"/><text x="864">→</text></g></g>
<g id="row20" class="n" transform="translate(0 1055.5)"><path class="ld" d="M26-5.5h40M882-5.5h39"/><text class="ll" x="22" y="-1">20</text><text class="rl" x="926" y="-1">20</text><g id="k20-1"><use href="#K" x="84"/><text x="84">←</text></g><g id="k20-2"><use href="#K" x="136"/><text x="136">←</text></g><g id="k20-3"><use href="#K" x="188"/><text x="188">←</text></g><g id="k20-4"><use href="#K" x="240"/><text x="240">←</text></g><g id="k20-5"><use href="#R" x="292"/><text x="292">←</text></g><g id="k20-6"><use href="#K" x="344"/><text x="344">←</text></g><g id="k20-7"><use href="#K" x="396"/><text x="396">←</text></g><g id="k20-8"><use href="#K" x="448"/><text x="448">←</text></g><g id="k20-9"><use href="#K" x="500"/><text x="500">←</text></g><g id="k20-10"><use href="#K" x="552"/><text x="552">←</text></g><g id="k20-11"><use href="#K" x="604"/><text x="604">←</text></g><g id="k20-12"><use href="#K" x="656"/><text x="656">←</text></g><g id="k20-13"><use href="#K" x="708"/><text x="708">←</text></g><g id="k20-14"><use href="#K" x="760"/><text x="760">←</text></g><g id="k20-15"><use href="#K" x="812"/><text x="812">←</text></g><g id="k20-16"><use href="#K" x="864"/><text x="864">←</text></g></g>
<g id="row21" class="n" transform="translate(0 1107.5)"><path class="ld" d="M26-5.5h40M882-5.5h39"/><text class="ll" x="22" y="-1">21</text><text class="rl" x="926" y="-1">21</text><g id="k21-1"><use href="#K" x="84"/><text x="84">→</text></g><g id="k21-2"><use href="#K" x="136"/><text x="136">→</text></g><g id="k21-3"><use href="#K" x="188"/><text x="188">→</text></g><g id="k21-4"><use href="#K" x="240"/><text x="240">→</text></g><g id="k21-5"><use href="#R" x="292"/><text x="292">→</text></g><g id="k21-6"><use href="#K" x="344"/><text x="344">→</text></g><g id="k21-7"><use href="#K" x="396"/><text x="396">→</text></g><g id="k21-8"><use href="#K" x="448"/><text x="448">→</text></g><g id="k21-9"><use href="#K" x="500"/><text x="500">→</text></g><g id="k21-10"><use href="#K" x="552"/><text x="552">→</text></g><g id="k21-11"><use href="#K" x="604"/><text x="604">→</text></g><g id="k21-12"><use href="#K" x="656"/><text x="656">→</text></g><g id="k21-13"><use href="#K" x="708"/><text x="708">→</text></g><g id="k21-14"><use href="#K" x="760"/><text x="760">→</text></g><g id="k21-15"><use href="#K" x="812"/><text x="812">→</text></g><g id="k21-16"><use href="#K" x="864"/><text x="864">→</text></g></g>
<g id="row22" class="n" transform="translate(0 1159.5)"><path class="ld" d="M26-5.5h40M882-5.5h39"/><text class="ll" x="22" y="-1">22</text><text class="rl" x="926" y="-1">22</text><g id="k22-1"><use href="#K" x="84"/><text x="84">←</text></g><g id="k22-2"><use href="#K" x="136"/><text x="136">←</text></g><g id="k22-3"><use href="#K" x="188"/><text x="188">←</text></g><g id="k22-4"><use href="#K" x="240"/><text x="240">←</text></g><g id="k22-5"><use href="#R" x="292"/><text x="292">←</text></g><g id="k22-6"><use href="#K" x="344"/><text x="344">←</text></g><g id="k22-7"><use href="#K" x="396"/><text x="396">←</text></g><g id="k22-8"><use href="#K" x="448"/><text x="448">←</text></g><g id="k22-9"><use href="#K" x="500"/><text x="500">←</text></g><g id="k22-10"><use href="#K" x="552"/><text x="552">←</text></g><g id="k22-11"><use href="#K" x="604"/><text x="604">←</text></g><g id="k22-12"><use href="#K" x="656"/><text x="656">←</text></g><g id="k22-13"><use href="#K" x="708"/><text x="708">←</text></g><g id="k22-14"><use href="#K" x="760"/><text x="760">←</text></g><g id="k22-15"><use href="#K" x="812"/><text x="812">←</text></g><g id="k22-16"><use href="#K" x="864"/><text x="864">←</text></g></g>
<g id="row23" class="n" transform="translate(0 1211.5)"><path class="ld" d="M26-5.5h40M882-5.5h39"/><text class="ll" x="22" y="-1">23</text><text class="rl" x="926" y="-1">23</text><g id="k23-1"><use href="#K" x="84"/><text x="84">→</text></g><g id="k23-2"><use href="#K" x="136"/><text x="136">→</text></g><g id="k23-3"><use href="#K" x="188"/><text x="188">→</text></g><g id="k23-4"><use href="#K" x="240"/><text x="240">→</text></g><g id="k23-5"><use href="#R" x="292"/><text x="292">→</text></g><g id="k23-6"><use href="#K" x="344"/><text x="344">→</text></g><g id="k23-7"><use href="#K" x="396"/><text x="396">→</text></g><g id="k23-8"><use href="#K" x="448"/><text x="448">→</text></g><g id="k23-9"><use href="#K" x="500"/><text x="500">→</text></g><g id="k23-10"><use href="#K" x="552"/><text x="552">→</text></g><g id="k23-11"><use href="#K" x="604"/><text x="604">→</text></g><g id="k23-12"><use href="#K" x="656"/><text x="656">→</text></g><g id="k23-13"><use href="#K" x="708"/><text x="708">→</text></g><g id="k23-14"><use href="#K" x="760"/><text x="760">→</text></g><g id="k23-15"><use href="#K" x="812"/><text x="812">→</text></g><g id="k23-16"><use href="#K" x="864"/><text x="864">→</text></g></g>
<g id="row24" class="n" transform="translate(0 1263.5)"><path class="ld" d="M26-5.5h40M882-5.5h39"/><text class="ll" x="22" y="-1">24</text><text class="rl" x="926" y="-1">24</text><g id="k24-1"><use href="#K" x="84"/><text x="84">←</text></g><g id="k24-2"><use href="#K" x="136"/><text x="136">←</text></g><g id="k24-3"><use href="#K" x="188"/><text x="188">←</text></g><g id="k24-4"><use href="#K" x="240"/><text x="240">←</text></g><g id="k24-5"><use href="#R" x="292"/><text x="292">←</text></g><g id="k24-6"><use href="#K" x="344"/><text x="344">←</text></g><g id="k24-7"><use href="#K" x="396"/><text x="396">←</text></g><g id="k24-8"><use href="#K" x="448"/><text x="448">←</text></g><g id="k24-9"><use href="#K" x="500"/><text x="500">←</text></g><g id="k24-10"><use href="#K" x="552"/><text x="552">←</text></g><g id="k24-11"><use href="#K" x="604"/><text x="604">←</text></g><g id="k24-12"><use href="#K" x="656"/><text x="656">←</text></g><g id="k24-13"><use href="#K" x="708"/><text x="708">←</text></g><g id="k24-14"><use href="#K" x="760"/><text x="760">←</text></g><g id="k24-15"><use href="#K" x="812"/><text x="812">←</text></g><g id="k24-16"><use href="#K" x="864"/><text x="864">←</text></g></g>
<g id="row25" class="n" transform="translate(0 1315.5)"><path class="ld" d="M26-5.5h40M882-5.5h39"/><text class="ll" x="22" y="-1">25</text><text class="rl" x="926" y="-1">25</text><g id="k25-1"><use href="#K" x="84"/><text x="84">→</text></g><g id="k25-2"><use href="#K" x="136"/><text x="136">→</text></g><g id="k25-3"><use href="#K" x="188"/><text x="188">→</text></g><g id="k25-4"><use href="#K" x="240"/><text x="240">→</text></g><g id="k25-5"><use href="#R" x="292"/><text x="292">→</text></g><g id="k25-6"><use href="#K" x="344"/><text x="344">→</text></g><g id="k25-7"><use href="#K" x="396"/><text x="396">→</text></g><g id="k25-8"><use href="#K" x="448"/><text x="448">→</text></g><g id="k25-9"><use href="#K" x="500"/><text x="500">→</text></g><g id="k25-10"><use href="#K" x="552"/><text x="552">→</text></g><g id="k25-11"><use href="#K" x="604"/><text x="604">→</text></g><g id="k25-12"><use href="#K" x="656"/><text x="656">→</text></g><g id="k25-13"><use href="#K" x="708"/><text x="708">→</text></g><g id="k25-14"><use href="#K" x="760"/><text x="760">→</text></g><g id="k25-15"><use href="#K" x="812"/><text x="812">→</text></g><g id="k25-16"><use href="#K" x="864"/><text x="864">→</text></g></g>
<g id="row26" class="n" transform="translate(0 1367.5)"><path class="ld" d="M26-5.5h40M882-5.5h39"/><text class="ll" x="22" y="-1">26</text><text class="rl" x="926" y="-1">26</text><g id="k26-1"><use href="#K" x="84"/><text x="84">←</text></g><g id="k26-2"><use href="#K" x="136"/><text x="136">←</text></g><g id="k26-3"><use href="#K" x="188"/><text x="188">←</text></g><g id="k26-4"><use href="#K" x="240"/><text x="240">←</text></g><g id="k26-5"><use href="#R" x="292"/><text x="292">←</text></g><g id="k26-6"><use href="#K" x="344"/><text x="344">←</text></g><g id="k26-7"><use href="#K" x="396"/><text x="396">←</text></g><g id="k26-8"><use href="#K" x="448"/><text x="448">←</text></g><g id="k26-9"><use href="#K" x="500"/><text x="500">←</text></g><g id="k26-10"><use href="#K" x="552"/><text x="552">←</text></g><g id="k26-11"><use href="#K" x="604"/><text x="604">←</text></g><g id="k26-12"><use href="#K" x="656"/><text x="656">←</text></g><g id="k26-13"><use href="#K" x="708"/><text x="708">←</text></g><g id="k26-14"><use href="#K" x="760"/><text x="760">←</text></g><g id="k26-15"><use href="#K" x="812"/><text x="812">←</text></g><g id="k26-16"><use href="#K" x="864"/><text x="864">←</text></g></g>
<g id="row27" class="n" transform="translate(0 1419.5)"><path class="ld" d="M26-5.5h40M882-5.5h39"/><text class="ll" x="22" y="-1">27</text><text class="rl" x="926" y="-1">27</text><g id="k27-1"><use href="#K" x="84"/><text x="84">→</text></g><g id="k27-2"><use href="#K" x="136"/><text x="136">→</text></g><g id="k27-3"><use href="#K" x="188"/><text x="188">→</text></g><g id="k27-4"><use href="#K" x="240"/><text x="240">→</text></g><g id="k27-5"><use href="#R" x="292"/><text x="292">→</text></g><g id="k27-6"><use href="#K" x="344"/><text x="344">→</text></g><g id="k27-7"><use href="#K" x="396"/><text x="396">→</text></g><g id="k27-8"><use href="#K" x="448"/><text x="448">→</text></g><g id="k27-9"><use href="#K" x="500"/><text x="500">→</text></g><g id="k27-10"><use href="#K" x="552"/><text x="552">→</text></g><g id="k27-11"><use href="#K" x="604"/><text x="604">→</text></g><g id="k27-12"><use href="#K" x="656"/><text x="656">→</text></g><g id="k27-13"><use href="#K" x="708"/><text x="708">→</text></g><g id="k27-14"><use href="#K" x="760"/><text x="760">→</text></g><g id="k27-15"><use href="#K" x="812"/><text x="812">→</text></g><g id="k27-16"><use href="#K" x="864"/><text x="864">→</text></g></g>
<g id="row28" class="n" transform="translate(0 1471.5)"><path class="ld" d="M26-5.5h40M882-5.5h39"/><text class="ll" x="22" y="-1">28</text><text class="rl" x="926" y="-1">28</text><g id="k28-1"><use href="#K" x="84"/><text x="84">←</text></g><g id="k28-2"><use href="#K" x="136"/><text x="136">←</text></g><g id="k28-3"><use href="#K" x="188"/><text x="188">←</text></g><g id="k28-4"><use href="#K" x="240"/><text x="240">←</text></g><g id="k28-5"><use href="#R" x="292"/><text x="292">←</text></g><g id="k28-6"><use href="#K" x="344"/><text x="344">←</text></g><g id="k28-7"><use href="#K" x="396"/><text x="396">←</text></g><g id="k28-8"><use href="#K" x="448"/><text x="448">←</text></g><g id="k28-9"><use href="#K" x="500"/><text x="500">←</text></g><g id="k28-10"><use href="#K" x="552"/><text x="552">←</text></g><g id="k28-11"><use href="#K" x="604"/><text x="604">←</text></g><g id="k28-12"><use href="#K" x="656"/><text x="656">←</text></g><g id="k28-13"><use href="#K" x="708"/><text x="708">←</text></g><g id="k28-14"><use href="#K" x="760"/><text x="760">←</text></g><g id="k28-15"><use href="#K" x="812"/><text x="812">←</text></g><g id="k28-16"><use href="#K" x="864"/><text x="864">←</text></g></g>
<g id="row29" class="n" transform="translate(0 1523.5)"><path class="ld" d="M26-5.5h40M882-5.5h39"/><text class="ll" x="22" y="-1">29</text><text class="rl" x="926" y="-1">29</text><g id="k29-1"><use href="#K" x="84"/><text x="84">→</text></g><g id="k29-2"><use href="#K" x="136"/><text x="136">→</text></g><g id="k29-3"><use href="#K" x="188"/><text x="188">→</text></g><g id="k29-4"><use href="#K" x="240"/><text x="240">→</text></g><g id="k29-5"><use href="#R" x="292"/><text x="292">→</text></g><g id="k29-6"><use href="#K" x="344"/><text x="344">→</text></g><g id="k29-7"><use href="#K" x="396"/><text x="396">→</text></g><g id="k29-8"><use href="#K" x="448"/><text x="448">→</text></g><g id="k29-9"><use href="#K" x="500"/><text x="500">→</text></g><g id="k29-10"><use href="#K" x="552"/><text x="552">→</text></g><g id="k29-11"><use href="#K" x="604"/><text x="604">→</text></g><g id="k29-12"><use href="#K" x="656"/><text x="656">→</text></g><g id="k29-13"><use href="#K" x="708"/><text x="708">→</text></g><g id="k29-14"><use href="#K" x="760"/><text x="760">→</text></g><g id="k29-15"><use href="#K" x="812"/><text x="812">→</text></g><g id="k29-16"><use href="#K" x="864"/><text x="864">→</text></g></g>
<g id="row30" class="n" transform="translate(0 1575.5)"><path class="ld" d="M26-5.5h40M882-5.5h39"/><text class="ll" x="22" y="-1">30</text><text class="rl" x="926" y="-1">30</text><g id="k30-1"><use href="#K" x="84"/><text x="84">←</text></g><g id="k30-2"><use href="#K" x="136"/><text x="136">←</text></g><g id="k30-3"><use href="#K" x="188"/><text x="188">←</text></g><g id="k30-4"><use href="#K" x="240"/><text x="240">←</text></g><g id="k30-5"><use href="#R" x="292"/><text x="292">←</text></g><g id="k30-6"><use href="#K" x="344"/><text x="344">←</text></g><g id="k30-7"><use href="#K" x="396"/><text x="396">←</text></g><g id="k30-8"><use href="#K" x="448"/><text x="448">←</text></g><g id="k30-9"><use href="#K" x="500"/><text x="500">←</text></g><g id="k30-10"><use href="#K" x="552"/><text x="552">←</text></g><g id="k30-11"><use href="#K" x="604"/><text x="604">←</text></g><g id="k30-12"><use href="#K" x="656"/><text x="656">←</text></g><g id="k30-13"><use href="#K" x="708"/><text x="708">←</text></g><g id="k30-14"><use href="#K" x="760"/><text x="760">←</text></g><g id="k30-15"><use href="#K" x="812"/><text x="812">←</text></g><g id="k30-16"><use href="#K" x="864"/><text x="864">←</text></g></g>
<g id="row31" class="n" transform="translate(0 1627.5)"><path class="ld" d="M26-5.5h40M882-5.5h39"/><text class="ll" x="22" y="-1">31</text><text class="rl" x="926" y="-1">31</text><g id="k31-1"><use href="#K" x="84"/><text x="84">→</text></g><g id="k31-2"><use href="#K" x="136"/><text x="136">→</text></g><g id="k31-3"><use href="#K" x="188"/><text x="188">→</text></g><g id="k31-4"><use href="#K" x="240"/><text x="240">→</text></g><g id="k31-5"><use href="#R" x="292"/><text x="292">→</text></g><g id="k31-6"><use href="#K" x="344"/><text x="344">→</text></g><g id="k31-7"><use href="#K" x="396"/><text x="396">→</text></g><g id="k31-8"><use href="#K" x="448"/><text x="448">→</text></g><g id="k31-9"><use href="#K" x="500"/><text x="500">→</text></g><g id="k31-10"><use href="#K" x="552"/><text x="552">→</text></g><g id="k31-11"><use href="#K" x="604"/><text x="604">→</text></g><g id="k31-12"><use href="#K" x="656"/><text x="656">→</text></g><g id="k31-13"><use href="#K" x="708"/><text x="708">→</text></g><g id="k31-14"><use href="#K" x="760"/><text x="760">→</text></g><g id="k31-15"><use href="#K" x="812"/><text x="812">→</text></g><g id="k31-16"><use href="#K" x="864"/><text x="864">→</text></g></g>
<g id="row32" class="n" transform="translate(0 1679.5)"><path class="ld" d="M26-5.5h40M882-5.5h39"/><text class="ll" x="22" y="-1">32</text><text class="rl" x="926" y="-1">32</text><g id="k32-1"><use href="#K" x="84"/><text x="84">←</text></g><g id="k32-2"><use href="#K" x="136"/><text x="136">←</text></g><g id="k32-3"><use href="#K" x="188"/><text x="188">←</text></g><g id="k32-4"><use href="#K" x="240"/><text x="240">←</text></g><g id="k32-5"><use href="#R" x="292"/><text x="292">←</text></g><g id="k32-6"><use href="#K" x="344"/><text x="344">←</text></g><g id="k32-7"><use href="#K" x="396"/><text x="396">←</text></g><g id="k32-8"><use href="#K" x="448"/><text x="448">←</text></g><g id="k32-9"><use href="#K" x="500"/><text x="500">←</text></g><g id="k32-10"><use href="#K" x="552"/><text x="552">←</text></g><g id="k32-11"><use href="#K" x="604"/><text x="604">←</text></g><g id="k32-12"><use href="#R" x="656"/><text x="656">←</text></g><g id="k32-13"><use href="#R" x="708"/><text x="708">←</text></g><g id="k32-14"><use href="#R" x="760"/><text x="760">←</text></g><g id="k32-15"><use href="#K" x="812"/><text x="812">←</text></g><g id="k32-16"><use href="#K" x="864"/><text x="864">←</text></g></g>
<g id="row33" class="n" transform="translate(0 1731.5)"><path class="ld" d="M26-5.5h40M882-5.5h39"/><text class="ll" x="22" y="-1">33</text><text class="rl" x="926" y="-1">33</text><g id="k33-1"><use href="#K" x="84"/><text x="84">→</text></g><g id="k33-2"><use href="#K" x="136"/><text x="136">→</text></g><g id="k33-3"><use href="#K" x="188"/><text x="188">→</text></g><g id="k33-4"><use href="#K" x="240"/><text x="240">→</text></g><g id="k33-5"><use href="#R" x="292"/><text x="292">→</text></g><g id="k33-6"><use href="#K" x="344"/><text x="344">→</text></g><g id="k33-7"><use href="#K" x="396"/><text x="396">→</text></g><g id="k33-8"><use href="#K" x="448"/><text x="448">→</text></g><g id="k33-9"><use href="#K" x="500"/><text x="500">→</text></g><g id="k33-10"><use href="#K" x="552"/><text x="552">→</text></g><g id="k33-11"><use href="#R" x="604"/><text x="604">→</text></g><g id="k33-12"><use href="#K" x="656"/><text x="656">→</text></g><g id="k33-13"><use href="#K" x="708"/><text x="708">→</text></g><g id="k33-14"><use href="#K" x="760"/><text x="760">→</text></g><g id="k33-15"><use href="#R" x="812"/><text x="812">→</text></g><g id="k33-16"><use href="#K" x="864"/><text x="864">→</text></g></g>
<g id="row34" class="n" transform="translate(0 1783.5)"><path class="ld" d="M26-5.5h40M882-5.5h39"/><text class="ll" x="22" y="-1">34</text><text class="rl" x="926" y="-1">34</text><g id="k34-1"><use href="#K" x="84"/><text x="84">←</text></g><g id="k34-2"><use href="#K" x="136"/><text x="136">←</text></g><g id="k34-3"><use href="#K" x="188"/><text x="188">←</text></g><g id="k34-4"><use href="#K" x="240"/><text x="240">←</text></g><g id="k34-5"><use href="#R" x="292"/><text x="292">←</text></g><g id="k34-6"><use href="#K" x="344"/><text x="344">←</text></g><g id="k34-7"><use href="#K" x="396"/><text x="396">←</text></g><g id="k34-8"><use href="#K" x="448"/><text x="448">←</text></g><g id="k34-9"><use href="#K" x="500"/><text x="500">←</text></g><g id="k34-10"><use href="#K" x="552"/><text x="552">←</text></g><g id="k34-11"><use href="#R" x="604"/><text x="604">←</text></g><g id="k34-12"><use href="#K" x="656"/><text x="656">←</text></g><g id="k34-13"><use href="#K" x="708"/><text x="708">←</text></g><g id="k34-14"><use href="#K" x="760"/><text x="760">←</text></g><g id="k34-15"><use href="#R" x="812"/><text x="812">←</text></g><g id="k34-16"><use href="#K" x="864"/><text x="864">←</text></g></g>
<g id="row35" class="n" transform="translate(0 1835.5)"><path class="ld" d="M26-5.5h40M882-5.5h39"/><text class="ll" x="22" y="-1">35</text><text class="rl" x="926" y="-1">35</text><g id="k35-1"><use href="#K" x="84"/><text x="84">→</text></g><g id="k35-2"><use href="#K" x="136"/><text x="136">→</text></g><g id="k35-3"><use href="#K" x="188"/><text x="188">→</text></g><g id="k35-4"><use href="#K" x="240"/><text x="240">→</text></g><g id="k35-5"><use href="#R" x="292"/><text x="292">→</text></g><g id="k35-6"><use href="#R" x="344"/><text x="344">→</text></g><g id="k35-7"><use href="#R" x="396"/><text x="396">→</text></g><g id="k35-8"><use href="#R" x="448"/><text x="448">→</text></g><g id="k35-9"><use href="#R" x="500"/><text x="500">→</text></g><g id="k35-10"><use href="#K" x="552"/><text x="552">→</text></g><g id="k35-11"><use href="#R" x="604"/><text x="604">→</text></g><g id="k35-12"><use href="#K" x="656"/><text x="656">→</text></g><g id="k35-13"><use href="#K" x="708"/><text x="708">→</text></g><g id="k35-14"><use href="#K" x="760"/><text x="760">→</text></g><g id="k35-15"><use href="#R" x="812"/><text x="812">→</text></g><g id="k35-16"><use href="#K" x="864"/><text x="864">→</text></g></g>
<g id="row36" class="n" transform="translate(0 1887.5)"><path class="ld" d="M26-5.5h40M882-5.5h39"/><text class="ll" x="22" y="-1">36</text><text class="rl" x="926" y="-1">36</text><g id="k36-1"><use href="#K" x="84"/><text x="84">←</text></g><g id="k36-2"><use href="#K" x="136"/><text x="136">←</text></g><g id="k36-3"><use href="#K" x="188"/><text x="188">←</text></g><g id="k36-4"><use href="#K" x="240"/><text x="240">←</text></g><g id="k36-5"><use href="#K" x="292"/><text x="292">←</text></g><g id="k36-6"><use href="#K" x="344"/><text x="344">←</text></g><g id="k36-7"><use href="#K" x="396"/><text x="396">←</text></g><g id="k36-8"><use href="#K" x="448"/><text x="448">←</text></g><g id="k36-9"><use href="#K" x="500"/><text x="500">←</text></g><g id="k36-10"><use href="#R" x="552"/><text x="552">←</text></g><g id="k36-11"><use href="#R" x="604"/><text x="604">←</text></g><g id="k36-12"><use href="#K" x="656"/><text x="656">←</text></g><g id="k36-13"><use href="#K" x="708"/><text x="708">←</text></g><g id="k36-14"><use href="#K" x="760"/><text x="760">←</text></g><g id="k36-15"><use href="#R" x="812"/><text x="812">←</text></g><g id="k36-16"><use href="#K" x="864"/><text x="864">←</text></g></g>
<g id="row37" class="n" transform="translate(0 1939.5)"><path class="ld" d="M26-5.5h40M882-5.5h39"/><text class="ll" x="22" y="-1">37</text><text class="rl" x="926" y="-1">37</text><g id="k37-1"><use href="#K" x="84"/><text x="84">→</text></g><g id="k37-2"><use href="#K" x="136"/><text x="136">→</text></g><g id="k37-3"><use href="#K" x="188"/><text x="188">→</text></g><g id="k37-4"><use href="#K" x="240"/><text x="240">→</text></g><g id="k37-5"><use href="#K" x="292"/><text x="292">→</text></g><g id="k37-6"><use href="#K" x="344"/><text x="344">→</text></g><g id="k37-7"><use href="#K" x="396"/><text x="396">→</text></g><g id="k37-8"><use href="#K" x="448"/><text x="448">→</text></g><g id="k37-9"><use href="#K" x="500"/><text x="500">→</text></g><g id="k37-10"><use href="#K" x="552"/><text x="552">→</text></g><g id="k37-11"><use href="#K" x="604"/><text x="604">→</text></g><g id="k37-12"><use href="#R" x="656"/><text x="656">→</text></g><g id="k37-13"><use href="#R" x="708"/><text x="708">→</text></g><g id="k37-14"><use href="#R" x="760"/><text x="760">→</text></g><g id="k37-15"><use href="#K" x="812"/><text x="812">→</text></g><g id="k37-16"><use href="#K" x="864"/><text x="864">→</text></g></g>
<g id="row38" class="n" transform="translate(0 1991.5)"><path class="ld" d="M26-5.5h40M882-5.5h39"/><text class="ll" x="22" y="-1">38</text><text class="rl" x="926" y="-1">38</text><g id="k38-1"><use href="#K" x="84"/><text x="84">←</text></g><g id="k38-2"><use href="#K" x="136"/><text x="136">←</text></g><g id="k38-3"><use href="#K" x="188"/><text x="188">←</text></g><g id="k38-4"><use href="#K" x="240"/><text x="240">←</text></g><g id="k38-5"><use href="#K" x="292"/><text x="292">←</text></g><g id="k38-6"><use href="#K" x="344"/><text x="344">←</text></g><g id="k38-7"><use href="#K" x="396"/><text x="396">←</text></g><g id="k38-8"><use href="#K" x="448"/><text x="448">←</text></g><g id="k38-9"><use href="#K" x="500"/><text x="500">←</text></g><g id="k38-10"><use href="#K" x="552"/><text x="552">←</text></g><g id="k38-11"><use href="#K" x="604"/><text x="604">←</text></g><g id="k38-12"><use href="#R" x="656"/><text x="656">←</text></g><g id="k38-13"><use href="#K" x="708"/><text x="708">←</text></g><g id="k38-14"><use href="#K" x="760"/><text x="760">←</text></g><g id="k38-15"><use href="#K" x="812"/><text x="812">←</text></g><g id="k38-16"><use href="#K" x="864"/><text x="864">←</text></g></g>
<g id="row39" class="n" transform="translate(0 2043.5)"><path class="ld" d="M26-5.5h40M882-5.5h39"/><text class="ll" x="22" y="-1">39</text><text class="rl" x="926" y="-1">39</text><g id="k39-1"><use href="#K" x="84"/><text x="84">→</text></g><g id="k39-2"><use href="#K" x="136"/><text x="136">→</text></g><g id="k39-3"><use href="#K" x="188"/><text x="188">→</text></g><g id="k39-4"><use href="#K" x="240"/><text x="240">→</text></g><g id="k39-5"><use href="#K" x="292"/><text x="292">→</text></g><g id="k39-6"><use href="#K" x="344"/><text x="344">→</text></g><g id="k39-7"><use href="#K" x="396"/><text x="396">→</text></g><g id="k39-8"><use href="#K" x="448"/><text x="448">→</text></g><g id="k39-9"><use href="#K" x="500"/><text x="500">→</text></g><g id="k39-10"><use href="#K" x="552"/><text x="552">→</text></g><g id="k39-11"><use href="#K" x="604"/><text x="604">→</text></g><g id="k39-12"><use href="#K" x="656"/><text x="656">→</text></g><g id="k39-13"><use href="#R" x="708"/><text x="708">→</text></g><g id="k39-14"><use href="#K" x="760"/><text x="760">→</text></g><g id="k39-15"><use href="#K" x="812"/><text x="812">→</text></g><g id="k39-16"><use href="#K" x="864"/><text x="864">→</text></g></g>
<g id="row40" class="n" transform="translate(0 2095.5)"><path class="ld" d="M26-5.5h40M882-5.5h39"/><text class="ll" x="22" y="-1">40</text><text class="rl" x="926" y="-1">40</text><g id="k40-1"><use href="#K" x="84"/><text x="84">←</text></g><g id="k40-2"><use href="#K" x="136"/><text x="136">←</text></g><g id="k40-3"><use href="#K" x="188"/><text x="188">←</text></g><g id="k40-4"><use href="#K" x="240"/><text x="240">←</text></g><g id="k40-5"><use href="#K" x="292"/><text x="292">←</text></g><g id="k40-6"><use href="#K" x="344"/><text x="344">←</text></g><g id="k40-7"><use href="#K" x="396"/><text x="396">←</text></g><g id="k40-8"><use href="#K" x="448"/><text x="448">←</text></g><g id="k40-9"><use href="#K" x="500"/><text x="500">←</text></g><g id="k40-10"><use href="#K" x="552"/><text x="552">←</text></g><g id="k40-11"><use href="#K" x="604"/><text x="604">←</text></g><g id="k40-12"><use href="#K" x="656"/><text x="656">←</text></g><g id="k40-13"><use href="#R" x="708"/><text x="708">←</text></g><g id="k40-14"><use href="#K" x="760"/><text x="760">←</text></g><g id="k40-15"><use href="#K" x="812"/><text x="812">←</text></g><g id="k40-16"><use href="#K" x="864"/><text x="864">←</text></g></g>
<g id="row41" class="n" transform="translate(0 2147.5)"><path class="ld" d="M26-5.5h40M882-5.5h39"/><text class="ll" x="22" y="-1">41</text><text class="rl" x="926" y="-1">41</text><g id="k41-1"><use href="#K" x="84"/><text x="84">→</text></g><g id="k41-2"><use href="#K" x="136"/><text x="136">→</text></g><g id="k41-3"><use href="#K" x="188"/><text x="188">→</text></g><g id="k41-4"><use href="#K" x="240"/><text x="240">→</text></g><g id="k41-5"><use href="#K" x="292"/><text x="292">→</text></g><g id="k41-6"><use href="#K" x="344"/><text x="344">→</text></g><g id="k41-7"><use href="#K" x="396"/><text x="396">→</text></g><g id="k41-8"><use href="#K" x="448"/><text x="448">→</text></g><g id="k41-9"><use href="#K" x="500"/><text x="500">→</text></g><g id="k41-10"><use href="#K" x="552"/><text x="552">→</text></g><g id="k41-11"><use href="#K" x="604"/><text x="604">→</text></g><g id="k41-12"><use href="#K" x="656"/><text x="656">→</text></g><g id="k41-13"><use href="#R" x="708"/><text x="708">→</text></g><g id="k41-14"><use href="#K" x="760"/><text x="760">→</text></g><g id="k41-15"><use href="#K" x="812"/><text x="812">→</text></g><g id="k41-16"><use href="#K" x="864"/><text x="864">→</text></g></g>
<g id="row42" class="n" transform="translate(0 2199.5)"><path class="ld" d="M26-5.5h40M882-5.5h39"/><text class="ll" x="22" y="-1">42</text><text class="rl" x="926" y="-1">42</text><g id="k42-1"><use href="#K" x="84"/><text x="84">←</text></g><g id="k42-2"><use href="#K" x="136"/><text x="136">←</text></g><g id="k42-3"><use href="#K" x="188"/><text x="188">←</text></g><g id="k42-4"><use href="#K" x="240"/><text x="240">←</text></g><g id="k42-5"><use href="#K" x="292"/><text x="292">←</text></g><g id="k42-6"><use href="#K" x="344"/><text x="344">←</text></g><g id="k42-7"><use href="#K" x="396"/><text x="396">←</text></g><g id="k42-8"><use href="#K" x="448"/><text x="448">←</text></g><g id="k42-9"><use href="#K" x="500"/><text x="500">←</text></g><g id="k42-10"><use href="#K" x="552"/><text x="552">←</text></g><g id="k42-11"><use href="#K" x="604"/><text x="604">←</text></g><g id="k42-12"><use href="#K" x="656"/><text x="656">←</text></g><g id="k42-13"><use href="#R" x="708"/><text x="708">←</text></g><g id="k42-14"><use href="#K" x="760"/><text x="760">←</text></g><g id="k42-15"><use href="#K" x="812"/><text x="812">←</text></g><g id="k42-16"><use href="#K" x="864"/><text x="864">←</text></g></g>
<g id="row43" class="n" transform="translate(0 2251.5)"><path class="ld" d="M26-5.5h40M882-5.5h39"/><text class="ll" x="22" y="-1">43</text><text class="rl" x="926" y="-1">43</text><g id="k43-1"><use href="#K" x="84"/><text x="84">→</text></g><g id="k43-2"><use href="#K" x="136"/><text x="136">→</text></g><g id="k43-3"><use href="#K" x="188"/><text x="188">→</text></g><g id="k43-4"><use href="#K" x="240"/><text x="240">→</text></g><g id="k43-5"><use href="#K" x="292"/><text x="292">→</text></g><g id="k43-6"><use href="#K" x="344"/><text x="344">→</text></g><g id="k43-7"><use href="#K" x="396"/><text x="396">→</text></g><g id="k43-8"><use href="#K" x="448"/><text x="448">→</text></g><g id="k43-9"><use href="#K" x="500"/><text x="500">→</text></g><g id="k43-10"><use href="#K" x="552"/><text x="552">→</text></g><g id="k43-11"><use href="#K" x="604"/><text x="604">→</text></g><g id="k43-12"><use href="#K" x="656"/><text x="656">→</text></g><g id="k43-13"><use href="#R" x="708"/><text x="708">→</text></g><g id="k43-14"><use href="#K" x="760"/><text x="760">→</text></g><g id="k43-15"><use href="#K" x="812"/><text x="812">→</text></g><g id="k43-16"><use href="#K" x="864"/><text x="864">→</text></g></g>
<g id="row44" class="n" transform="translate(0 2303.5)"><path class="ld" d="M26-5.5h40M882-5.5h39"/><text class="ll" x="22" y="-1">44</text><text class="rl" x="926" y="-1">44</text><g id="k44-1"><use href="#K" x="84"/><text x="84">←</text></g><g id="k44-2"><use href="#K" x="136"/><text x="136">←</text></g><g id="k44-3"><use href="#K" x="188"/><text x="188">←</text></g><g id="k44-4"><use href="#K" x="240"/><text x="240">←</text></g><g id="k44-5"><use href="#K" x="292"/><text x="292">←</text></g><g id="k44-6"><use href="#K" x="344"/><text x="344">←</text></g><g id="k44-7"><use href="#K" x="396"/><text x="396">←</text></g><g id="k44-8"><use href="#K" x="448"/><text x="448">←</text></g><g id="k44-9"><use href="#K" x="500"/><text x="500">←</text></g><g id="k44-10"><use href="#K" x="552"/><text x="552">←</text></g><g id="k44-11"><use href="#K" x="604"/><text x="604">←</text></g><g id="k44-12"><use href="#K" x="656"/><text x="656">←</text></g><g id="k44-13"><use href="#R" x="708"/><text x="708">←</text></g><g id="k44-14"><use href="#K" x="760"/><text x="760">←</text></g><g id="k44-15"><use href="#K" x="812"/><text x="812">←</text></g><g id="k44-16"><use href="#K" x="864"/><text x="864">←</text></g></g>
<g id="row45" class="n" transform="translate(0 2355.5)"><path class="ld" d="M26-5.5h40M882-5.5h39"/><text class="ll" x="22" y="-1">45</text><text class="rl" x="926" y="-1">45</text><g id="k45-1"><use href="#K" x="84"/><text x="84">→</text></g><g id="k45-2"><use href="#K" x="136"/><text x="136">→</text></g><g id="k45-3"><use href="#K" x="188"/><text x="188">→</text></g><g id="k45-4"><use href="#K" x="240"/><text x="240">→</text></g><g id="k45-5"><use href="#K" x="292"/><text x="292">→</text></g><g id="k45-6"><use href="#K" x="344"/><text x="344">→</text></g><g id="k45-7"><use href="#K" x="396"/><text x="396">→</text></g><g id="k45-8"><use href="#K" x="448"/><text x="448">→</text></g><g id="k45-9"><use href="#K" x="500"/><text x="500">→</text></g><g id="k45-10"><use href="#K" x="552"/><text x="552">→</text></g><g id="k45-11"><use href="#K" x="604"/><text x="604">→</text></g><g id="k45-12"><use href="#R" x="656"/><text x="656">→</text></g><g id="k45-13"><use href="#K" x="708"/><text x="708">→</text></g><g id="k45-14"><use href="#K" x="760"/><text x="760">→</text></g><g id="k45-15"><use href="#K" x="812"/><text x="812">→</text></g><g id="k45-16"><use href="#K" x="864"/><text x="864">→</text></g></g>
<g id="row46" class="n" transform="translate(0 2407.5)"><path class="ld" d="M26-5.5h40M882-5.5h39"/><text class="ll" x="22" y="-1">46</text><text class="rl" x="926" y="-1">46</text><g id="k46-1"><use href="#K" x="84"/><text x="84">←</text></g><g id="k46-2"><use href="#K" x="136"/><text x="136">←</text></g><g id="k46-3"><use href="#K" x="188"/><text x="188">←</text></g><g id="k46-4"><use href="#K" x="240"/><text x="240">←</text></g><g id="k46-5"><use href="#K" x="292"/><text x="292">←</text></g><g id="k46-6"><use href="#K" x="344"/><text x="344">←</text></g><g id="k46-7"><use href="#K" x="396"/><text x="396">←</text></g><g id="k46-8"><use href="#K" x="448"/><text x="448">←</text></g><g id="k46-9"><use href="#K" x="500"/><text x="500">←</text></g><g id="k46-10"><use href="#K" x="552"/><text x="552">←</text></g><g id="k46-11"><use href="#K" x="604"/><text x="604">←</text></g><g id="k46-12"><use href="#R" x="656"/><text x="656">←</text></g><g id="k46-13"><use href="#R" x="708"/><text x="708">←</text></g><g id="k46-14"><use href="#R" x="760"/><text x="760">←</text></g><g id="k46-15"><use href="#K" x="812"/><text x="812">←</text></g><g id="k46-16"><use href="#K" x="864"/><text x="864">←</text></g></g>
<g id="row47" class="n" transform="translate(0 2459.5)"><path class="ld" d="M26-5.5h40M882-5.5h39"/><text class="ll" x="22" y="-1">47</text><text class="rl" x="926" y="-1">47</text><g id="k47-1"><use href="#K" x="84"/><text x="84">→</text></g><g id="k47-2"><use href="#K" x="136"/><text x="136">→</text></g><g id="k47-3"><use href="#K" x="188"/><text x="188">→</text></g><g id="k47-4"><use href="#K" x="240"/><text x="240">→</text></g><g id="k47-5"><use href="#K" x="292"/><text x="292">→</text></g><g id="k47-6"><use href="#K" x="344"/><text x="344">→</text></g><g id="k47-7"><use href="#K" x="396"/><text x="396">→</text></g><g id="k47-8"><use href="#K" x="448"/><text x="448">→</text></g><g id="k47-9"><use href="#K" x="500"/><text x="500">→</text></g><g id="k47-10"><use href="#R" x="552"/><text x="552">→</text></g><g id="k47-11"><use href="#R" x="604"/><text x="604">→</text></g><g id="k47-12"><use href="#K" x="656"/><text x="656">→</text></g><g id="k47-13"><use href="#K" x="708"/><text x="708">→</text></g><g id="k47-14"><use href="#K" x="760"/><text x="760">→</text></g><g id="k47-15"><use href="#R" x="812"/><text x="812">→</text></g><g id="k47-16"><use href="#K" x="864"/><text x="864">→</text></g></g>
<g id="row48" class="n" transform="translate(0 2511.5)"><path class="ld" d="M26-5.5h40M882-5.5h39"/><text class="ll" x="22" y="-1">48</text><text class="rl" x="926" y="-1">48</text><g id="k48-1"><use href="#K" x="84"/><text x="84">←</text></g><g id="k48-2"><use href="#K" x="136"/><text x="136">←</text></g><g id="k48-3"><use href="#K" x="188"/><text x="188">←</text></g><g id="k48-4"><use href="#K" x="240"/><text x="240">←</text></g><g id="k48-5"><use href="#R" x="292"/><text x="292">←</text></g><g id="k48-6"><use href="#R" x="344"/><text x="344">←</text></g><g id="k48-7"><use href="#R" x="396"/><text x="396">←</text></g><g id="k48-8"><use href="#R" x="448"/><text x="448">←</text></g><g id="k48-9"><use href="#R" x="500"/><text x="500">←</text></g><g id="k48-10"><use href="#K" x="552"/><text x="552">←</text></g><g id="k48-11"><use href="#R" x="604"/><text x="604">←</text></g><g id="k48-12"><use href="#K" x="656"/><text x="656">←</text></g><g id="k48-13"><use href="#K" x="708"/><text x="708">←</text></g><g id="k48-14"><use href="#K" x="760"/><text x="760">←</text></g><g id="k48-15"><use href="#R" x="812"/><text x="812">←</text></g><g id="k48-16"><use href="#K" x="864"/><text x="864">←</text></g></g>
<g id="row49" class="n" transform="translate(0 2563.5)"><path class="ld" d="M26-5.5h40M882-5.5h39"/><text class="ll" x="22" y="-1">49</text><text class="rl" x="926" y="-1">49</text><g id="k49-1"><use href="#K" x="84"/><text x="84">→</text></g><g id="k49-2"><use href="#K" x="136"/><text x="136">→</text></g><g id="k49-3"><use href="#K" x="188"/><text x="188">→</text></g><g id="k49-4"><use href="#K" x="240"/><text x="240">→</text></g><g id="k49-5"><use href="#R" x="292"/><text x="292">→</text></g><g id="k49-6"><use href="#K" x="344"/><text x="344">→</text></g><g id="k49-7"><use href="#K" x="396"/><text x="396">→</text></g><g id="k49-8"><use href="#K" x="448"/><text x="448">→</text></g><g id="k49-9"><use href="#K" x="500"/><text x="500">→</text></g><g id="k49-10"><use href="#K" x="552"/><text x="552">→</text></g><g id="k49-11"><use href="#R" x="604"/><text x="604">→</text></g><g id="k49-12"><use href="#K" x="656"/><text x="656">→</text></g><g id="k49-13"><use href="#K" x="708"/><text x="708">→</text></g><g id="k49-14"><use href="#K" x="760"/><text x="760">→</text></g><g id="k49-15"><use href="#R" x="812"/><text x="812">→</text></g><g id="k49-16"><use href="#K" x="864"/><text x="864">→</text></g></g>
<g id="row50" class="n" transform="translate(0 2615.5)"><path class="ld" d="M26-5.5h40M882-5.5h39"/><text class="ll" x="22" y="-1">50</text><text class="rl" x="926" y="-1">50</text><g id="k50-1"><use href="#K" x="84"/><text x="84">←</text></g><g id="k50-2"><use href="#K" x="136"/><text x="136">←</text></g><g id="k50-3"><use href="#K" x="188"/><text x="188">←</text></g><g id="k50-4"><use href="#K" x="240"/><text x="240">←</text></g><g id="k50-5"><use href="#R" x="292"/><text x="292">←</text></g><g id="k50-6"><use href="#K" x="344"/><text x="344">←</text></g><g id="k50-7"><use href="#K" x="396"/><text x="396">←</text></g><g id="k50-8"><use href="#K" x="448"/><text x="448">←</text></g><g id="k50-9"><use href="#K" x="500"/><text x="500">←</text></g><g id="k50-10"><use href="#K" x="552"/><text x="552">←</text></g><g id="k50-11"><use href="#R" x="604"/><text x="604">←</text></g><g id="k50-12"><use href="#K" x="656"/><text x="656">←</text></g><g id="k50-13"><use href="#K" x="708"/><text x="708">←</text></g><g id="k50-14"><use href="#K" x="760"/><text x="760">←</text></g><g id="k50-15"><use href="#R" x="812"/><text x="812">←</text></g><g id="k50-16"><use href="#K" x="864"/><text x="864">←</text></g></g>
<g id="row51" class="n" transform="translate(0 2667.5)"><path class="ld" d="M26-5.5h40M882-5.5h39"/><text class="ll" x="22" y="-1">51</text><text class="rl" x="926" y="-1">51</text><g id="k51-1"><use href="#K" x="84"/><text x="84">→</text></g><g id="k51-2"><use href="#K" x="136"/><text x="136">→</text></g><g id="k51-3"><use href="#K" x="188"/><text x="188">→</text></g><g id="k51-4"><use href="#K" x="240"/><text x="240">→</text></g><g id="k51-5"><use href="#R" x="292"/><text x="292">→</text></g><g id="k51-6"><use href="#K" x="344"/><text x="344">→</text></g><g id="k51-7"><use href="#K" x="396"/><text x="396">→</text></g><g id="k51-8"><use href="#K" x="448"/><text x="448">→</text></g><g id="k51-9"><use href="#K" x="500"/><text x="500">→</text></g><g id="k51-10"><use href="#K" x="552"/><text x="552">→</text></g><g id="k51-11"><use href="#K" x="604"/><text x="604">→</text></g><g id="k51-12"><use href="#R" x="656"/><text x="656">→</text></g><g id="k51-13"><use href="#R" x="708"/><text x="708">→</text></g><g id="k51-14"><use href="#R" x="760"/><text x="760">→</text></g><g id="k51-15"><use href="#K" x="812"/><text x="812">→</text></g><g id="k51-16"><use href="#K" x="864"/><text x="864">→</text></g></g>
<g id="row52" class="n" transform="translate(0 2719.5)"><path class="ld" d="M26-5.5h40M882-5.5h39"/><text class="ll" x="22" y="-1">52</text><text class="rl" x="926" y="-1">52</text><g id="k52-1"><use href="#K" x="84"/><text x="84">←</text></g><g id="k52-2"><use href="#K" x="136"/><text x="136">←</text></g><g id="k52-3"><use href="#K" x="188"/><text x="188">←</text></g><g id="k52-4"><use href="#K" x="240"/><text x="240">←</text></g><g id="k52-5"><use href="#R" x="292"/><text x="292">←</text></g><g id="k52-6"><use href="#K" x="344"/><text x="344">←</text></g><g id="k52-7"><use href="#K" x="396"/><text x="396">←</text></g><g id="k52-8"><use href="#K" x="448"/><text x="448">←</text></g><g id="k52-9"><use href="#K" x="500"/><text x="500">←</text></g><g id="k52-10"><use href="#K" x="552"/><text x="552">←</text></g><g id="k52-11"><use href="#K" x="604"/><text x="604">←</text></g><g id="k52-12"><use href="#K" x="656"/><text x="656">←</text></g><g id="k52-13"><use href="#K" x="708"/><text x="708">←</text></g><g id="k52-14"><use href="#K" x="760"/><text x="760">←</text></g><g id="k52-15"><use href="#K" x="812"/><text x="812">←</text></g><g id="k52-16"><use href="#K" x="864"/><text x="864">←</text></g></g>
<g id="row53" class="n" transform="translate(0 2771.5)"><path class="ld" d="M26-5.5h40M882-5.5h39"/><text class="ll" x="22" y="-1">53</text><text class="rl" x="926" y="-1">53</text><g id="k53-1"><use href="#K" x="84"/><text x="84">→</text></g><g id="k53-2"><use href="#K" x="136"/><text x="136">→</text></g><g id="k53-3"><use href="#K" x="188"/><text x="188">→</text></g><g id="k53-4"><use href="#K" x="240"/><text x="240">→</text></g><g id="k53-5"><use href="#R" x="292"/><text x="292">→</text></g><g id="k53-6"><use href="#K" x="344"/><text x="344">→</text></g><g id="k53-7"><use href="#K" x="396"/><text x="396">→</text></g><g id="k53-8"><use href="#K" x="448"/><text x="448">→</text></g><g id="k53-9"><use href="#K" x="500"/><text x="500">→</text></g><g id="k53-10"><use href="#K" x="552"/><text x="552">→</text></g><g id="k53-11"><use href="#K" x="604"/><text x="604">→</text></g><g id="k53-12"><use href="#K" x="656"/><text x="656">→</text></g><g id="k53-13"><use href="#K" x="708"/><text x="708">→</text></g><g id="k53-14"><use href="#K" x="760"/><text x="760">→</text></g><g id="k53-15"><use href="#K" x="812"/><text x="812">→</text></g><g id="k53-16"><use href="#K" x="864"/><text x="864">→</text></g></g>
<g id="row54" class="n" transform="translate(0 2823.5)"><path class="ld" d="M26-5.5h40M882-5.5h39"/><text class="ll" x="22" y="-1">54</text><text class="rl" x="926" y="-1">54</text><g id="k54-1"><use href="#K" x="84"/><text x="84">←</text></g><g id="k54-2"><use href="#K" x="136"/><text x="136">←</text></g><g id="k54-3"><use href="#K" x="188"/><text x="188">←</text></g><g id="k54-4"><use href="#K" x="240"/><text x="240">←</text></g><g id="k54-5"><use href="#R" x="292"/><text x="292">←</text></g><g id="k54-6"><use href="#K" x="344"/><text x="344">←</text></g><g id="k54-7"><use href="#K" x="396"/><text x="396">←</text></g><g id="k54-8"><use href="#K" x="448"/><text x="448">←</text></g><g id="k54-9"><use href="#K" x="500"/><text x="500">←</text></g><g id="k54-10"><use href="#K" x="552"/><text x="552">←</text></g><g id="k54-11"><use href="#K" x="604"/><text x="604">←</text></g><g id="k54-12"><use href="#K" x="656"/><text x="656">←</text></g><g id="k54-13"><use href="#K" x="708"/><text x="708">←</text></g><g id="k54-14"><use href="#K" x="760"/><text x="760">←</text></g><g id="k54-15"><use href="#K" x="812"/><text x="812">←</text></g><g id="k54-16"><use href="#K" x="864"/><text x="864">←</text></g></g>
<g id="row55" class="n" transform="translate(0 2875.5)"><path class="ld" d="M26-5.5h40M882-5.5h39"/><text class="ll" x="22" y="-1">55</text><text class="rl" x="926" y="-1">55</text><g id="k55-1"><use href="#K" x="84"/><text x="84">→</text></g><g id="k55-2"><use href="#K" x="136"/><text x="136">→</text></g><g id="k55-3"><use href="#K" x="188"/><text x="188">→</text></g><g id="k55-4"><use href="#K" x="240"/><text x="240">→</text></g><g id="k55-5"><use href="#R" x="292"/><text x="292">→</text></g><g id="k55-6"><use href="#K" x="344"/><text x="344">→</text></g><g id="k55-7"><use href="#K" x="396"/><text x="396">→</text></g><g id="k55-8"><use href="#K" x="448"/><text x="448">→</text></g><g id="k55-9"><use href="#K" x="500"/><text x="500">→</text></g><g id="k55-10"><use href="#K" x="552"/><text x="552">→</text></g><g id="k55-11"><use href="#K" x="604"/><text x="604">→</text></g><g id="k55-12"><use href="#K" x="656"/><text x="656">→</text></g><g id="k55-13"><use href="#K" x="708"/><text x="708">→</text></g><g id="k55-14"><use href="#K" x="760"/><text x="760">→</text></g><g id="k55-15"><use href="#K" x="812"/><text x="812">→</text></g><g id="k55-16"><use href="#K" x="864"/><text x="864">→</text></g></g>
<g id="row56" class="n" transform="translate(0 2927.5)"><path class="ld" d="M26-5.5h40M882-5.5h39"/><text class="ll" x="22" y="-1">56</text><text class="rl" x="926" y="-1">56</text><g id="k56-1"><use href="#K" x="84"/><text x="84">←</text></g><g id="k56-2"><use href="#K" x="136"/><text x="136">←</text></g><g id="k56-3"><use href="#K" x="188"/><text x="188">←</text></g><g id="k56-4"><use href="#K" x="240"/><text x="240">←</text></g><g id="k56-5"><use href="#R" x="292"/><text x="292">←</text></g><g id="k56-6"><use href="#K" x="344"/><text x="344">←</text></g><g id="k56-7"><use href="#K" x="396"/><text x="396">←</text></g><g id="k56-8"><use href="#K" x="448"/><text x="448">←</text></g><g id="k56-9"><use href="#K" x="500"/><text x="500">←</text></g><g id="k56-10"><use href="#K" x="552"/><text x="552">←</text></g><g id="k56-11"><use href="#K" x="604"/><text x="604">←</text></g><g id="k56-12"><use href="#K" x="656"/><text x="656">←</text></g><g id="k56-13"><use href="#K" x="708"/><text x="708">←</text></g><g id="k56-14"><use href="#K" x="760"/><text x="760">←</text></g><g id="k56-15"><use href="#K" x="812"/><text x="812">←</text></g><g id="k56-16"><use href="#K" x="864"/><text x="864">←</text></g></g>
<g id="row57" class="n" transform="translate(0 2979.5)"><path class="ld" d="M26-5.5h40M882-5.5h39"/><text class="ll" x="22" y="-1">57</text><text class="rl" x="926" y="-1">57</text><g id="k57-1"><use href="#K" x="84"/><text x="84">→</text></g><g id="k57-2"><use href="#K" x="136"/><text x="136">→</text></g><g id="k57-3"><use href="#K" x="188"/><text x="188">→</text></g><g id="k57-4"><use href="#K" x="240"/><text x="240">→</text></g><g id="k57-5"><use href="#R" x="292"/><text x="292">→</text></g><g id="k57-6"><use href="#K" x="344"/><text x="344">→</text></g><g id="k57-7"><use href="#K" x="396"/><text x="396">→</text></g><g id="k57-8"><use href="#K" x="448"/><text x="448">→</text></g><g id="k57-9"><use href="#K" x="500"/><text x="500">→</text></g><g id="k57-10"><use href="#K" x="552"/><text x="552">→</text></g><g id="k57-11"><use href="#K" x="604"/><text x="604">→</text></g><g id="k57-12"><use href="#K" x="656"/><text x="656">→</text></g><g id="k57-13"><use href="#K" x="708"/><text x="708">→</text></g><g id="k57-14"><use href="#K" x="760"/><text x="760">→</text></g><g id="k57-15"><use href="#K" x="812"/><text x="812">→</text></g><g id="k57-16"><use href="#K" x="864"/><text x="864">→</text></g></g>
<g id="row58" class="n" transform="translate(0 3031.5)"><path class="ld" d="M26-5.5h40M882-5.5h39"/><text class="ll" x="22" y="-1">58</text><text class="rl" x="926" y="-1">58</text><g id="k58-1"><use href="#K" x="84"/><text x="84">←</text></g><g id="k58-2"><use href="#K" x="136"/><text x="136">←</text></g><g id="k58-3"><use href="#K" x="188"/><text x="188">←</text></g><g id="k58-4"><use href="#K" x="240"/><text x="240">←</text></g><g id="k58-5"><use href="#R" x="292"/><text x="292">←</text></g><g id="k58-6"><use href="#K" x="344"/><text x="344">←</text></g><g id="k58-7"><use href="#K" x="396"/><text x="396">←</text></g><g id="k58-8"><use href="#K" x="448"/><text x="448">←</text></g><g id="k58-9"><use href="#K" x="500"/><text x="500">←</text></g><g id="k58-10"><use href="#K" x="552"/><text x="552">←</text></g><g id="k58-11"><use href="#K" x="604"/><text x="604">←</text></g><g id="k58-12"><use href="#K" x="656"/><text x="656">←</text></g><g id="k58-13"><use href="#K" x="708"/><text x="708">←</text></g><g id="k58-14"><use href="#K" x="760"/><text x="760">←</text></g><g id="k58-15"><use href="#K" x="812"/><text x="812">←</text></g><g id="k58-16"><use href="#K" x="864"/><text x="864">←</text></g></g>
<g id="row59" class="n" transform="translate(0 3083.5)"><path class="ld" d="M26-5.5h40M882-5.5h39"/><text class="ll" x="22" y="-1">59</text><text class="rl" x="926" y="-1">59</text><g id="k59-1"><use href="#K" x="84"/><text x="84">→</text></g><g id="k59-2"><use href="#K" x="136"/><text x="136">→</text></g><g id="k59-3"><use href="#K" x="188"/><text x="188">→</text></g><g id="k59-4"><use href="#K" x="240"/><text x="240">→</text></g><g id="k59-5"><use href="#R" x="292"/><text x="292">→</text></g><g id="k59-6"><use href="#K" x="344"/><text x="344">→</text></g><g id="k59-7"><use href="#K" x="396"/><text x="396">→</text></g><g id="k59-8"><use href="#K" x="448"/><text x="448">→</text></g><g id="k59-9"><use href="#K" x="500"/><text x="500">→</text></g><g id="k59-10"><use href="#K" x="552"/><text x="552">→</text></g><g id="k59-11"><use href="#K" x="604"/><text x="604">→</text></g><g id="k59-12"><use href="#K" x="656"/><text x="656">→</text></g><g id="k59-13"><use href="#K" x="708"/><text x="708">→</text></g><g id="k59-14"><use href="#K" x="760"/><text x="760">→</text></g><g id="k59-15"><use href="#K" x="812"/><text x="812">→</text></g><g id="k59-16"><use href="#K" x="864"/><text x="864">→</text></g></g>
<g id="row60" class="n" transform="translate(0 3135.5)"><path class="ld" d="M26-5.5h40M882-5.5h39"/><text class="ll" x="22" y="-1">60</text><text class="rl" x="926" y="-1">60</text><g id="k60-1"><use href="#K" x="84"/><text x="84">←</text></g><g id="k60-2"><use href="#K" x="136"/><text x="136">←</text></g><g id="k60-3"><use href="#K" x="188"/><text x="188">←</text></g><g id="k60-4"><use href="#K" x="240"/><text x="240">←</text></g><g id="k60-5"><use href="#R" x="292"/><text x="292">←</text></g><g id="k60-6"><use href="#K" x="344"/><text x="344">←</text></g><g id="k60-7"><use href="#K" x="396"/><text x="396">←</text></g><g id="k60-8"><use href="#K" x="448"/><text x="448">←</text></g><g id="k60-9"><use href="#K" x="500"/><text x="500">←</text></g><g id="k60-10"><use href="#K" x="552"/><text x="552">←</text></g><g id="k60-11"><use href="#K" x="604"/><text x="604">←</text></g><g id="k60-12"><use href="#K" x="656"/><text x="656">←</text></g><g id="k60-13"><use href="#K" x="708"/><text x="708">←</text></g><g id="k60-14"><use href="#K" x="760"/><text x="760">←</text></g><g id="k60-15"><use href="#K" x="812"/><text x="812">←</text></g><g id="k60-16"><use href="#K" x="864"/><text x="864">←</text></g></g>
<g id="row61" class="n" transform="translate(0 3187.5)"><path class="ld" d="M26-5.5h40M882-5.5h39"/><text class="ll" x="22" y="-1">61</text><text class="rl" x="926" y="-1">61</text><g id="k61-1"><use href="#K" x="84"/><text x="84">→</text></g><g id="k61-2"><use href="#K" x="136"/><text x="136">→</text></g><g id="k61-3"><use href="#K" x="188"/><text x="188">→</text></g><g id="k61-4"><use href="#K" x="240"/><text x="240">→</text></g><g id="k61-5"><use href="#R" x="292"/><text x="292">→</text></g><g id="k61-6"><use href="#K" x="344"/><text x="344">→</text></g><g id="k61-7"><use href="#K" x="396"/><text x="396">→</text></g><g id="k61-8"><use href="#K" x="448"/><text x="448">→</text></g><g id="k61-9"><use href="#K" x="500"/><text x="500">→</text></g><g id="k61-10"><use href="#K" x="552"/><text x="552">→</text></g><g id="k61-11"><use href="#K" x="604"/><text x="604">→</text></g><g id="k61-12"><use href="#K" x="656"/><text x="656">→</text></g><g id="k61-13"><use href="#K" x="708"/><text x="708">→</text></g><g id="k61-14"><use href="#K" x="760"/><text x="760">→</text></g><g id="k61-15"><use href="#K" x="812"/><text x="812">→</text></g><g id="k61-16"><use href="#K" x="864"/><text x="864">→</text></g></g>
<g id="row62" class="n" transform="translate(0 3239.5)"><path class="ld" d="M26-5.5h40M882-5.5h39"/><text class="ll" x="22" y="-1">62</text><text class="rl" x="926" y="-1">62</text><g id="k62-1"><use href="#K" x="84"/><text x="84">←</text></g><g id="k62-2"><use href="#K" x="136"/><text x="136">←</text></g><g id="k62-3"><use href="#K" x="188"/><text x="188">←</text></g><g id="k62-4"><use href="#K" x="240"/><text x="240">←</text></g><g id="k62-5"><use href="#R" x="292"/><text x="292">←</text></g><g id="k62-6"><use href="#K" x="344"/><text x="344">←</text></g><g id="k62-7"><use href="#K" x="396"/><text x="396">←</text></g><g id="k62-8"><use href="#K" x="448"/><text x="448">←</text></g><g id="k62-9"><use href="#K" x="500"/><text x="500">←</text></g><g id="k62-10"><use href="#K" x="552"/><text x="552">←</text></g><g id="k62-11"><use href="#K" x="604"/><text x="604">←</text></g><g id="k62-12"><use href="#K" x="656"/><text x="656">←</text></g><g id="k62-13"><use href="#K" x="708"/><text x="708">←</text></g><g id="k62-14"><use href="#K" x="760"/><text x="760">←</text></g><g id="k62-15"><use href="#K" x="812"/><text x="812">←</text></g><g id="k62-16"><use href="#K" x="864"/><text x="864">←</text></g></g>
<g id="row63" class="n" transform="translate(0 3291.5)"><path class="ld" d="M26-5.5h40M882-5.5h39"/><text class="ll" x="22" y="-1">63</text><text class="rl" x="926" y="-1">63</text><g id="k63-1"><use href="#K" x="84"/><text x="84">→</text></g><g id="k63-2"><use href="#K" x="136"/><text x="136">→</text></g><g id="k63-3"><use href="#K" x="188"/><text x="188">→</text></g><g id="k63-4"><use href="#K" x="240"/><text x="240">→</text></g><g id="k63-5"><use href="#R" x="292"/><text x="292">→</text></g><g id="k63-6"><use href="#K" x="344"/><text x="344">→</text></g><g id="k63-7"><use href="#K" x="396"/><text x="396">→</text></g><g id="k63-8"><use href="#K" x="448"/><text x="448">→</text></g><g id="k63-9"><use href="#K" x="500"/><text x="500">→</text></g><g id="k63-10"><use href="#K" x="552"/><text x="552">→</text></g><g id="k63-11"><use href="#K" x="604"/><text x="604">→</text></g><g id="k63-12"><use href="#K" x="656"/><text x="656">→</text></g><g id="k63-13"><use href="#K" x="708"/><text x="708">→</text></g><g id="k63-14"><use href="#K" x="760"/><text x="760">→</text></g><g id="k63-15"><use href="#K" x="812"/><text x="812">→</text></g><g id="k63-16"><use href="#K" x="864"/><text x="864">→</text></g></g>
<g id="row64" class="n" transform="translate(0 3343.5)"><path class="ld" d="M26-5.5h40M882-5.5h39"/><text class="ll" x="22" y="-1">64</text><text class="rl" x="926" y="-1">64</text><g id="k64-1"><use href="#K" x="84"/><text x="84">←</text></g><g id="k64-2"><use href="#K" x="136"/><text x="136">←</text></g><g id="k64-3"><use href="#K" x="188"/><text x="188">←</text></g><g id="k64-4"><use href="#K" x="240"/><text x="240">←</text></g><g id="k64-5"><use href="#R" x="292"/><text x="292">←</text></g><g id="k64-6"><use href="#K" x="344"/><text x="344">←</text></g><g id="k64-7"><use href="#K" x="396"/><text x="396">←</text></g><g id="k64-8"><use href="#K" x="448"/><text x="448">←</text></g><g id="k64-9"><use href="#K" x="500"/><text x="500">←</text></g><g id="k64-10"><use href="#K" x="552"/><text x="552">←</text></g><g id="k64-11"><use href="#K" x="604"/><text x="604">←</text></g><g id="k64-12"><use href="#K" x="656"/><text x="656">←</text></g><g id="k64-13"><use href="#K" x="708"/><text x="708">←</text></g><g id="k64-14"><use href="#K" x="760"/><text x="760">←</text></g><g id="k64-15"><use href="#K" x="812"/><text x="812">←</text></g><g id="k64-16"><use href="#K" x="864"/><text x="864">←</text></g></g>
<g id="row65" class="n" transform="translate(0 3395.5)"><path class="ld" d="M26-5.5h40M882-5.5h39"/><text class="ll" x="22" y="-1">65</text><text class="rl" x="926" y="-1">65</text><g id="k65-1"><use href="#K" x="84"/><text x="84">→</text></g><g id="k65-2"><use href="#K" x="136"/><text x="136">→</text></g><g id="k65-3"><use href="#K" x="188"/><text x="188">→</text></g><g id="k65-4"><use href="#K" x="240"/><text x="240">→</text></g><g id="k65-5"><use href="#R" x="292"/><text x="292">→</text></g><g id="k65-6"><use href="#K" x="344"/><text x="344">→</text></g><g id="k65-7"><use href="#K" x="396"/><text x="396">→</text></g><g id="k65-8"><use href="#K" x="448"/><text x="448">→</text></g><g id="k65-9"><use href="#K" x="500"/><text x="500">→</text></g><g id="k65-10"><use href="#K" x="552"/><text x="552">→</text></g><g id="k65-11"><use href="#K" x="604"/><text x="604">→</text></g><g id="k65-12"><use href="#K" x="656"/><text x="656">→</text></g><g id="k65-13"><use href="#K" x="708"/><text x="708">→</text></g><g id="k65-14"><use href="#K" x="760"/><text x="760">→</text></g><g id="k65-15"><use href="#K" x="812"/><text x="812">→</text></g><g id="k65-16"><use href="#K" x="864"/><text x="864">→</text></g></g>
<g id="row66" class="n" transform="translate(0 3447.5)"><path class="ld" d="M26-5.5h40M882-5.5h39"/><text class="ll" x="22" y="-1">66</text><text class="rl" x="926" y="-1">66</text><g id="k66-1"><use href="#K" x="84"/><text x="84">←</text></g><g id="k66-2"><use href="#K" x="136"/><text x="136">←</text></g><g id="k66-3"><use href="#K" x="188"/><text x="188">←</text></g><g id="k66-4"><use href="#K" x="240"/><text x="240">←</text></g><g id="k66-5"><use href="#R" x="292"/><text x="292">←</text></g><g id="k66-6"><use href="#K" x="344"/><text x="344">←</text></g><g id="k66-7"><use href="#K" x="396"/><text x="396">←</text></g><g id="k66-8"><use href="#K" x="448"/><text x="448">←</text></g><g id="k66-9"><use href="#K" x="500"/><text x="500">←</text></g><g id="k66-10"><use href="#K" x="552"/><text x="552">←</text></g><g id="k66-11"><use href="#K" x="604"/><text x="604">←</text></g><g id="k66-12"><use href="#K" x="656"/><text x="656">←</text></g><g id="k66-13"><use href="#K" x="708"/><text x="708">←</text></g><g id="k66-14"><use href="#K" x="760"/><text x="760">←</text></g><g id="k66-15"><use href="#K" x="812"/><text x="812">←</text></g><g id="k66-16"><use href="#K" x="864"/><text x="864">←</text></g></g>
<g id="row67" class="n" transform="translate(0 3499.5)"><path class="ld" d="M26-5.5h40M882-5.5h39"/><text class="ll" x="22" y="-1">67</text><text class="rl" x="926" y="-1">67</text><g id="k67-1"><use href="#K" x="84"/><text x="84">→</text></g><g id="k67-2"><use href="#K" x="136"/><text x="136">→</text></g><g id="k67-3"><use href="#K" x="188"/><text x="188">→</text></g><g id="k67-4"><use href="#R" x="240"/><text x="240">→</text></g><g id="k67-5"><use href="#K" x="292"/><text x="292">→</text></g><g id="k67-6"><use href="#K" x="344"/><text x="344">→</text></g><g id="k67-7"><use href="#K" x="396"/><text x="396">→</text></g><g id="k67-8"><use href="#K" x="448"/><text x="448">→</text></g><g id="k67-9"><use href="#K" x="500"/><text x="500">→</text></g><g id="k67-10"><use href="#K" x="552"/><text x="552">→</text></g><g id="k67-11"><use href="#K" x="604"/><text x="604">→</text></g><g id="k67-12"><use href="#K" x="656"/><text x="656">→</text></g><g id="k67-13"><use href="#K" x="708"/><text x="708">→</text></g><g id="k67-14"><use href="#K" x="760"/><text x="760">→</text></g><g id="k67-15"><use href="#K" x="812"/><text x="812">→</text></g><g id="k67-16"><use href="#K" x="864"/><text x="864">→</text></g></g>
<g id="row68" class="n" transform="translate(0 3551.5)"><path class="ld" d="M26-5.5h40M882-5.5h39"/><text class="ll" x="22" y="-1">68</text><text class="rl" x="926" y="-1">68</text><g id="k68-1"><use href="#K" x="84"/><text x="84">←</text></g><g id="k68-2"><use href="#K" x="136"/><text x="136">←</text></g><g id="k68-3"><use href="#R" x="188"/><text x="188">←</text></g><g id="k68-4"><use href="#K" x="240"/><text x="240">←</text></g><g id="k68-5"><use href="#K" x="292"/><text x="292">←</text></g><g id="k68-6"><use href="#K" x="344"/><text x="344">←</text></g><g id="k68-7"><use href="#K" x="396"/><text x="396">←</text></g><g id="k68-8"><use href="#K" x="448"/><text x="448">←</text></g><g id="k68-9"><use href="#K" x="500"/><text x="500">←</text></g><g id="k68-10"><use href="#K" x="552"/><text x="552">←</text></g><g id="k68-11"><use href="#K" x="604"/><text x="604">←</text></g><g id="k68-12"><use href="#K" x="656"/><text x="656">←</text></g><g id="k68-13"><use href="#K" x="708"/><text x="708">←</text></g><g id="k68-14"><use href="#K" x="760"/><text x="760">←</text></g><g id="k68-15"><use href="#K" x="812"/><text x="812">←</text></g><g id="k68-16"><use href="#K" x="864"/><text x="864">←</text></g></g>
<g id="row69" class="n" transform="translate(0 3603.5)"><path class="ld" d="M26-5.5h40M882-5.5h39"/><text class="ll" x="22" y="-1">69</text><text class="rl" x="926" y="-1">69</text><g id="k69-1"><use href="#K" x="84"/><text x="84">→</text></g><g id="k69-2"><use href="#R" x="136"/><text x="136">→</text></g><g id="k69-3"><use href="#K" x="188"/><text x="188">→</text></g><g id="k69-4"><use href="#K" x="240"/><text x="240">→</text></g><g id="k69-5"><use href="#K" x="292"/><text x="292">→</text></g><g id="k69-6"><use href="#K" x="344"/><text x="344">→</text></g><g id="k69-7"><use href="#K" x="396"/><text x="396">→</text></g><g id="k69-8"><use href="#K" x="448"/><text x="448">→</text></g><g id="k69-9"><use href="#K" x="500"/><text x="500">→</text></g><g id="k69-10"><use href="#K" x="552"/><text x="552">→</text></g><g id="k69-11"><use href="#K" x="604"/><text x="604">→</text></g><g id="k69-12"><use href="#K" x="656"/><text x="656">→</text></g><g id="k69-13"><use href="#K" x="708"/><text x="708">→</text></g><g id="k69-14"><use href="#K" x="760"/><text x="760">→</text></g><g id="k69-15"><use href="#K" x="812"/><text x="812">→</text></g><g id="k69-16"><use href="#K" x="864"/><text x="864">→</text></g></g>
<g id="row70" class="n" transform="translate(0 3655.5)"><path class="ld" d="M26-5.5h40M882-5.5h39"/><text class="ll" x="22" y="-1">70</text><text class="rl" x="926" y="-1">70</text><g id="k70-1"><use href="#K" x="84"/><text x="84">←</text></g><g id="k70-2"><use href="#R" x="136"/><text x="136">←</text></g><g id="k70-3"><use href="#R" x="188"/><text x="188">←</text></g><g id="k70-4"><use href="#K" x="240"/><text x="240">←</text></g><g id="k70-5"><use href="#K" x="292"/><text x="292">←</text></g><g id="k70-6"><use href="#K" x="344"/><text x="344">←</text></g><g id="k70-7"><use href="#K" x="396"/><text x="396">←</text></g><g id="k70-8"><use href="#K" x="448"/><text x="448">←</text></g><g id="k70-9"><use href="#K" x="500"/><text x="500">←</text></g><g id="k70-10"><use href="#K" x="552"/><text x="552">←</text></g><g id="k70-11"><use href="#K" x="604"/><text x="604">←</text></g><g id="k70-12"><use href="#K" x="656"/><text x="656">←</text></g><g id="k70-13"><use href="#K" x="708"/><text x="708">←</text></g><g id="k70-14"><use href="#K" x="760"/><text x="760">←</text></g><g id="k70-15"><use href="#K" x="812"/><text x="812">←</text></g><g id="k70-16"><use href="#K" x="864"/><text x="864">←</text></g></g>
<g id="row71" class="n" transform="translate(0 3707.5)"><path class="ld" d="M26-5.5h40M882-5.5h39"/><text class="ll" x="22" y="-1">71</text><text class="rl" x="926" y="-1">71</text><g id="k71-1"><use href="#K" x="84"/><text x="84">→</text></g><g id="k71-2"><use href="#K" x="136"/><text x="136">→</text></g><g id="k71-3"><use href="#K" x="188"/><text x="188">→</text></g><g id="k71-4"><use href="#R" x="240"/><text x="240">→</text></g><g id="k71-5"><use href="#K" x="292"/><text x="292">→</text></g><g id="k71-6"><use href="#K" x="344"/><text x="344">→</text></g><g id="k71-7"><use href="#K" x="396"/><text x="396">→</text></g><g id="k71-8"><use href="#K" x="448"/><text x="448">→</text></g><g id="k71-9"><use href="#K" x="500"/><text x="500">→</text></g><g id="k71-10"><use href="#K" x="552"/><text x="552">→</text></g><g id="k71-11"><use href="#K" x="604"/><text x="604">→</text></g><g id="k71-12"><use href="#K" x="656"/><text x="656">→</text></g><g id="k71-13"><use href="#K" x="708"/><text x="708">→</text></g><g id="k71-14"><use href="#K" x="760"/><text x="760">→</text></g><g id="k71-15"><use href="#K" x="812"/><text x="812">→</text></g><g id="k71-16"><use href="#K" x="864"/><text x="864">→</text></g></g>
<g id="row72" class="n" transform="translate(0 3759.5)"><path class="ld" d="M26-5.5h40M882-5.5h39"/><text class="ll" x="22" y="-1">72</text><text class="rl" x="926" y="-1">72</text><g id="k72-1"><use href="#K" x="84"/><text x="84">←</text></g><g id="k72-2"><use href="#K" x="136"/><text x="136">←</text></g><g id="k72-3"><use href="#K" x="188"/><text x="188">←</text></g><g id="k72-4"><use href="#K" x="240"/><text x="240">←</text></g><g id="k72-5"><use href="#R" x="292"/><text x="292">←</text></g><g id="k72-6"><use href="#K" x="344"/><text x="344">←</text></g><g id="k72-7"><use href="#K" x="396"/><text x="396">←</text></g><g id="k72-8"><use href="#K" x="448"/><text x="448">←</text></g><g id="k72-9"><use href="#K" x="500"/><text x="500">←</text></g><g id="k72-10"><use href="#K" x="552"/><text x="552">←</text></g><g id="k72-11"><use href="#K" x="604"/><text x="604">←</text></g><g id="k72-12"><use href="#K" x="656"/><text x="656">←</text></g><g id="k72-13"><use href="#K" x="708"/><text x="708">←</text></g><g id="k72-14"><use href="#K" x="760"/><text x="760">←</text></g><g id="k72-15"><use href="#K" x="812"/><text x="812">←</text></g><g id="k72-16"><use href="#K" x="864"/><text x="864">←</text></g></g>
<g id="row73" class="n" transform="translate(0 3811.5)"><path class="ld" d="M26-5.5h40M882-5.5h39"/><text class="ll" x="22" y="-1">73</text><text class="rl" x="926" y="-1">73</text><g id="k73-1"><use href="#K" x="84"/><text x="84">→</text></g><g id="k73-2"><use href="#K" x="136"/><text x="136">→</text></g><g id="k73-3"><use href="#K" x="188"/><text x="188">→</text></g><g id="k73-4"><use href="#K" x="240"/><text x="240">→</text></g><g id="k73-5"><use href="#K" x="292"/><text x="292">→</text></g><g id="k73-6"><use href="#R" x="344"/><text x="344">→</text></g><g id="k73-7"><use href="#K" x="396"/><text x="396">→</text></g><g id="k73-8"><use href="#K" x="448"/><text x="448">→</text></g><g id="k73-9"><use href="#K" x="500"/><text x="500">→</text></g><g id="k73-10"><use href="#K" x="552"/><text x="552">→</text></g><g id="k73-11"><use href="#K" x="604"/><text x="604">→</text></g><g id="k73-12"><use href="#K" x="656"/><text x="656">→</text></g><g id="k73-13"><use href="#K" x="708"/><text x="708">→</text></g><g id="k73-14"><use href="#K" x="760"/><text x="760">→</text></g><g id="k73-15"><use href="#K" x="812"/><text x="812">→</text></g><g id="k73-16"><use href="#K" x="864"/><text x="864">→</text></g></g>
<g id="row74" class="n" transform="translate(0 3863.5)"><path class="ld" d="M26-5.5h40M882-5.5h39"/><text class="ll" x="22" y="-1">74</text><text class="rl" x="926" y="-1">74</text><g id="k74-1"><use href="#K" x="84"/><text x="84">←</text></g><g id="k74-2"><use href="#K" x="136"/><text x="136">←</text></g><g id="k74-3"><use href="#K" x="188"/><text x="188">←</text></g><g id="k74-4"><use href="#K" x="240"/><text x="240">←</text></g><g id="k74-5"><use href="#K" x="292"/><text x="292">←</text></g><g id="k74-6"><use href="#K" x="344"/><text x="344">←</text></g><g id="k74-7"><use href="#R" x="396"/><text x="396">←</text></g><g id="k74-8"><use href="#K" x="448"/><text x="448">←</text></g><g id="k74-9"><use href="#K" x="500"/><text x="500">←</text></g><g id="k74-10"><use href="#K" x="552"/><text x="552">←</text></g><g id="k74-11"><use href="#K" x="604"/><text x="604">←</text></g><g id="k74-12"><use href="#K" x="656"/><text x="656">←</text></g><g id="k74-13"><use href="#K" x="708"/><text x="708">←</text></g><g id="k74-14"><use href="#K" x="760"/><text x="760">←</text></g><g id="k74-15"><use href="#K" x="812"/><text x="812">←</text></g><g id="k74-16"><use href="#K" x="864"/><text x="864">←</text></g></g>
<g id="row75" class="n" transform="translate(0 3915.5)"><path class="ld" d="M26-5.5h40M882-5.5h39"/><text class="ll" x="22" y="-1">75</text><text class="rl" x="926" y="-1">75</text><g id="k75-1"><use href="#K" x="84"/><text x="84">→</text></g><g id="k75-2"><use href="#K" x="136"/><text x="136">→</text></g><g id="k75-3"><use href="#K" x="188"/><text x="188">→</text></g><g id="k75-4"><use href="#K" x="240"/><text x="240">→</text></g><g id="k75-5"><use href="#K" x="292"/><text x="292">→</text></g><g id="k75-6"><use href="#K" x="344"/><text x="344">→</text></g><g id="k75-7"><use href="#K" x="396"/><text x="396">→</text></g><g id="k75-8"><use href="#R" x="448"/><text x="448">→</text></g><g id="k75-9"><use href="#K" x="500"/><text x="500">→</text></g><g id="k75-10"><use href="#K" x="552"/><text x="552">→</text></g><g id="k75-11"><use href="#K" x="604"/><text x="604">→</text></g><g id="k75-12"><use href="#K" x="656"/><text x="656">→</text></g><g id="k75-13"><use href="#K" x="708"/><text x="708">→</text></g><g id="k75-14"><use href="#K" x="760"/><text x="760">→</text></g><g id="k75-15"><use href="#K" x="812"/><text x="812">→</text></g><g id="k75-16"><use href="#K" x="864"/><text x="864">→</text></g></g>
<g id="row76" class="n" transform="translate(0 3967.5)"><path class="ld" d="M26-5.5h40M882-5.5h39"/><text class="ll" x="22" y="-1">76</text><text class="rl" x="926" y="-1">76</text><g id="k76-1"><use href="#K" x="84"/><text x="84">←</text></g><g id="k76-2"><use href="#K" x="136"/><text x="136">←</text></g><g id="k76-3"><use href="#K" x="188"/><text x="188">←</text></g><g id="k76-4"><use href="#K" x="240"/><text x="240">←</text></g><g id="k76-5"><use href="#K" x="292"/><text x="292">←</text></g><g id="k76-6"><use href="#K" x="344"/><text x="344">←</text></g><g id="k76-7"><use href="#K" x="396"/><text x="396">←</text></g><g id="k76-8"><use href="#R" x="448"/><text x="448">←</text></g><g id="k76-9"><use href="#R" x="500"/><text x="500">←</text></g><g id="k76-10"><use href="#K" x="552"/><text x="552">←</text></g><g id="k76-11"><use href="#K" x="604"/><text x="604">←</text></g><g id="k76-12"><use href="#K" x="656"/><text x="656">←</text></g><g id="k76-13"><use href="#K" x="708"/><text x="708">←</text></g><g id="k76-14"><use href="#K" x="760"/><text x="760">←</text></g><g id="k76-15"><use href="#K" x="812"/><text x="812">←</text></g><g id="k76-16"><use href="#K" x="864"/><text x="864">←</text></g></g>
<g id="row77" class="n" transform="translate(0 4019.5)"><path class="ld" d="M26-5.5h40M882-5.5h39"/><text class="ll" x="22" y="-1">77</text><text class="rl" x="926" y="-1">77</text><g id="k77-1"><use href="#K" x="84"/><text x="84">→</text></g><g id="k77-2"><use href="#K" x="136"/><text x="136">→</text></g><g id="k77-3"><use href="#K" x="188"/><text x="188">→</text></g><g id="k77-4"><use href="#K" x="240"/><text x="240">→</text></g><g id="k77-5"><use href="#K" x="292"/><text x="292">→</text></g><g id="k77-6"><use href="#K" x="344"/><text x="344">→</text></g><g id="k77-7"><use href="#R" x="396"/><text x="396">→</text></g><g id="k77-8"><use href="#K" x="448"/><text x="448">→</text></g><g id="k77-9"><use href="#K" x="500"/><text x="500">→</text></g><g id="k77-10"><use href="#K" x="552"/><text x="552">→</text></g><g id="k77-11"><use href="#K" x="604"/><text x="604">→</text></g><g id="k77-12"><use href="#K" x="656"/><text x="656">→</text></g><g id="k77-13"><use href="#K" x="708"/><text x="708">→</text></g><g id="k77-14"><use href="#K" x="760"/><text x="760">→</text></g><g id="k77-15"><use href="#K" x="812"/><text x="812">→</text></g><g id="k77-16"><use href="#K" x="864"/><text x="864">→</text></g></g>
<g id="row78" class="n" transform="translate(0 4071.5)"><path class="ld" d="M26-5.5h40M882-5.5h39"/><text class="ll" x="22" y="-1">78</text><text class="rl" x="926" y="-1">78</text><g id="k78-1"><use href="#K" x="84"/><text x="84">←</text></g><g id="k78-2"><use href="#K" x="136"/><text x="136">←</text></g><g id="k78-3"><use href="#K" x="188"/><text x="188">←</text></g><g id="k78-4"><use href="#K" x="240"/><text x="240">←</text></g><g id="k78-5"><use href="#K" x="292"/><text x="292">←</text></g><g id="k78-6"><use href="#R" x="344"/><text x="344">←</text></g><g id="k78-7"><use href="#K" x="396"/><text x="396">←</text></g><g id="k78-8"><use href="#K" x="448"/><text x="448">←</text></g><g id="k78-9"><use href="#K" x="500"/><text x="500">←</text></g><g id="k78-10"><use href="#K" x="552"/><text x="552">←</text></g><g id="k78-11"><use href="#K" x="604"/><text x="604">←</text></g><g id="k78-12"><use href="#K" x="656"/><text x="656">←</text></g><g id="k78-13"><use href="#K" x="708"/><text x="708">←</text></g><g id="k78-14"><use href="#K" x="760"/><text x="760">←</text></g><g id="k78-15"><use href="#K" x="812"/><text x="812">←</text></g><g id="k78-16"><use href="#K" x="864"/><text x="864">←</text></g></g>
<g id="row79" class="n" transform="translate(0 4123.5)"><path class="ld" d="M26-5.5h40M882-5.5h39"/><text class="ll" x="22" y="-1">79</text><text class="rl" x="926" y="-1">79</text><g id="k79-1"><use href="#K" x="84"/><text x="84">→</text></g><g id="k79-2"><use href="#K" x="136"/><text x="136">→</text></g><g id="k79-3"><use href="#K" x="188"/><text x="188">→</text></g><g id="k79-4"><use href="#K" x="240"/><text x="240">→</text></g><g id="k79-5"><use href="#R" x="292"/><text x="292">→</text></g><g id="k79-6"><use href="#K" x="344"/><text x="344">→</text></g><g id="k79-7"><use href="#K" x="396"/><text x="396">→</text></g><g id="k79-8"><use href="#K" x="448"/><text x="448">→</text></g><g id="k79-9"><use href="#K" x="500"/><text x="500">→</text></g><g id="k79-10"><use href="#K" x="552"/><text x="552">→</text></g><g id="k79-11"><use href="#K" x="604"/><text x="604">→</text></g><g id="k79-12"><use href="#K" x="656"/><text x="656">→</text></g><g id="k79-13"><use href="#K" x="708"/><text x="708">→</text></g><g id="k79-14"><use href="#K" x="760"/><text x="760">→</text></g><g id="k79-15"><use href="#K" x="812"/><text x="812">→</text></g><g id="k79-16"><use href="#K" x="864"/><text x="864">→</text></g></g>
<g id="row80" class="n" transform="translate(0 4175.5)"><path class="ld" d="M26-5.5h40M882-5.5h39"/><text class="ll" x="22" y="-1">80</text><text class="rl" x="926" y="-1">80</text><g id="k80-1"><use href="#K" x="84"/><text x="84">←</text></g><g id="k80-2"><use href="#K" x="136"/><text x="136">←</text></g><g id="k80-3"><use href="#K" x="188"/><text x="188">←</text></g><g id="k80-4"><use href="#K" x="240"/><text x="240">←</text></g><g id="k80-5"><use href="#R" x="292"/><text x="292">←</text></g><g id="k80-6"><use href="#K" x="344"/><text x="344">←</text></g><g id="k80-7"><use href="#K" x="396"/><text x="396">←</text></g><g id="k80-8"><use href="#K" x="448"/><text x="448">←</text></g><g id="k80-9"><use href="#K" x="500"/><text x="500">←</text></g><g id="k80-10"><use href="#K" x="552"/><text x="552">←</text></g><g id="k80-11"><use href="#K" x="604"/><text x="604">←</text></g><g id="k80-12"><use href="#K" x="656"/><text x="656">←</text></g><g id="k80-13"><use href="#K" x="708"/><text x="708">←</text></g><g id="k80-14"><use href="#K" x="760"/><text x="760">←</text></g><g id="k80-15"><use href="#K" x="812"/><text x="812">←</text></g><g id="k80-16"><use href="#K" x="864"/><text x="864">←</text></g></g>
<g id="row81" class="n" transform="translate(0 4227.5)"><path class="ld" d="M26-5.5h40M882-5.5h39"/><text class="ll" x="22" y="-1">81</text><text class="rl" x="926" y="-1">81</text><g id="k81-1"><use href="#K" x="84"/><text x="84">→</text></g><g id="k81-2"><use href="#K" x="136"/><text x="136">→</text></g><g id="k81-3"><use href="#K" x="188"/><text x="188">→</text></g><g id="k81-4"><use href="#K" x="240"/><text x="240">→</text></g><g id="k81-5"><use href="#R" x="292"/><text x="292">→</text></g><g id="k81-6"><use href="#K" x="344"/><text x="344">→</text></g><g id="k81-7"><use href="#K" x="396"/><text x="396">→</text></g><g id="k81-8"><use href="#K" x="448"/><text x="448">→</text></g><g id="k81-9"><use href="#K" x="500"/><text x="500">→</text></g><g id="k81-10"><use href="#K" x="552"/><text x="552">→</text></g><g id="k81-11"><use href="#K" x="604"/><text x="604">→</text></g><g id="k81-12"><use href="#K" x="656"/><text x="656">→</text></g><g id="k81-13"><use href="#K" x="708"/><text x="708">→</text></g><g id="k81-14"><use href="#K" x="760"/><text x="760">→</text></g><g id="k81-15"><use href="#K" x="812"/><text x="812">→</text></g><g id="k81-16"><use href="#K" x="864"/><text x="864">→</text></g></g>
<g id="row82" class="n" transform="translate(0 4279.5)"><path class="ld" d="M26-5.5h40M882-5.5h39"/><text class="ll" x="22" y="-1">82</text><text class="rl" x="926" y="-1">82</text><g id="k82-1"><use href="#K" x="84"/><text x="84">←</text></g><g id="k82-2"><use href="#K" x="136"/><text x="136">←</text></g><g id="k82-3"><use href="#K" x="188"/><text x="188">←</text></g><g id="k82-4"><use href="#K" x="240"/><text x="240">←</text></g><g id="k82-5"><use href="#R" x="292"/><text x="292">←</text></g><g id="k82-6"><use href="#K" x="344"/><text x="344">←</text></g><g id="k82-7"><use href="#K" x="396"/><text x="396">←</text></g><g id="k82-8"><use href="#K" x="448"/><text x="448">←</text></g><g id="k82-9"><use href="#K" x="500"/><text x="500">←</text></g><g id="k82-10"><use href="#K" x="552"/><text x="552">←</text></g><g id="k82-11"><use href="#K" x="604"/><text x="604">←</text></g><g id="k82-12"><use href="#K" x="656"/><text x="656">←</text></g><g id="k82-13"><use href="#K" x="708"/><text x="708">←</text></g><g id="k82-14"><use href="#K" x="760"/><text x="760">←</text></g><g id="k82-15"><use href="#K" x="812"/><text x="812">←</text></g><g id="k82-16"><use href="#K" x="864"/><text x="864">←</text></g></g>
<g id="row83" class="n" transform="translate(0 4331.5)"><path class="ld" d="M26-5.5h40M882-5.5h39"/><text class="ll" x="22" y="-1">83</text><text class="rl" x="926" y="-1">83</text><g id="k83-1"><use href="#K" x="84"/><text x="84">→</text></g><g id="k83-2"><use href="#K" x="136"/><text x="136">→</text></g><g id="k83-3"><use href="#K" x="188"/><text x="188">→</text></g><g id="k83-4"><use href="#K" x="240"/><text x="240">→</text></g><g id="k83-5"><use href="#R" x="292"/><text x="292">→</text></g><g id="k83-6"><use href="#K" x="344"/><text x="344">→</text></g><g id="k83-7"><use href="#K" x="396"/><text x="396">→</text></g><g id="k83-8"><use href="#K" x="448"/><text x="448">→</text></g><g id="k83-9"><use href="#K" x="500"/><text x="500">→</text></g><g id="k83-10"><use href="#K" x="552"/><text x="552">→</text></g><g id="k83-11"><use href="#K" x="604"/><text x="604">→</text></g><g id="k83-12"><use href="#K" x="656"/><text x="656">→</text></g><g id="k83-13"><use href="#K" x="708"/><text x="708">→</text></g><g id="k83-14"><use href="#K" x="760"/><text x="760">→</text></g><g id="k83-15"><use href="#K" x="812"/><text x="812">→</text></g><g id="k83-16"><use href="#K" x="864"/><text x="864">→</text></g></g>
<g id="row84" class="n" transform="translate(0 4383.5)"><path class="ld" d="M26-5.5h40M882-5.5h39"/><text class="ll" x="22" y="-1">84</text><text class="rl" x="926" y="-1">84</text><g id="k84-1"><use href="#K" x="84"/><text x="84">←</text></g><g id="k84-2"><use href="#K" x="136"/><text x="136">←</text></g><g id="k84-3"><use href="#K" x="188"/><text x="188">←</text></g><g id="k84-4"><use href="#K" x="240"/><text x="240">←</text></g><g id="k84-5"><use href="#R" x="292"/><text x="292">←</text></g><g id="k84-6"><use href="#K" x="344"/><text x="344">←</text></g><g id="k84-7"><use href="#K" x="396"/><text x="396">←</text></g><g id="k84-8"><use href="#K" x="448"/><text x="448">←</text></g><g id="k84-9"><use href="#K" x="500"/><text x="500">←</text></g><g id="k84-10"><use href="#K" x="552"/><text x="552">←</text></g><g id="k84-11"><use href="#K" x="604"/><text x="604">←</text></g><g id="k84-12"><use href="#K" x="656"/><text x="656">←</text></g><g id="k84-13"><use href="#K" x="708"/><text x="708">←</text></g><g id="k84-14"><use href="#K" x="760"/><text x="760">←</text></g><g id="k84-15"><use href="#K" x="812"/><text x="812">←</text></g><g id="k84-16"><use href="#K" x="864"/><text x="864">←</text></g></g>
<g id="row85" class="n" transform="translate(0 4435.5)"><path class="ld" d="M26-5.5h40"/><text class="ll" x="22" y="-1">85</text><text class="rl" x="926" y="-1">85</text><g id="k85-1"><use href="#K" x="84"/><text x="84">→</text></g><g id="k85-2"><use href="#K" x="136"/><text x="136">→</text></g><g id="k85-3"><use href="#K" x="188"/><text x="188">→</text></g><g id="k85-4"><use href="#K" x="240"/><text x="240">→</text></g><g id="k85-5"><use href="#R" x="292"/><text x="292">→</text></g><g id="k85-6"><use href="#K" x="344"/><text x="344">→</text></g><g id="k85-7"><use href="#K" x="396"/><text x="396">→</text></g><g id="k85-8"><use href="#K" x="448"/><text x="448">→</text></g><g id="k85-9"><use href="#K" x="500"/><text x="500">→</text></g><g id="k85-10"><use href="#K" x="552"/><text x="552">→</text></g><g id="k85-11"><use href="#K" x="604"/><text x="604">→</text></g><g id="k85-12"><use href="#K" x="656"/><text x="656">→</text></g><g id="k85-13"><use href="#K" x="708"/><text x="708">→</text></g><g id="k85-14"><use href="#K" x="760"/><text x="760">→</text></g><g id="k85-15"><use href="#K" x="812"/><text x="812">→</text></g><g id="k85-16"><use href="#K" x="864"/><text x="864">→</text></g></g>
</g>
<text class="wm" x="474" y="2277">BRACELETBOOK.COM</text>
</svg>
